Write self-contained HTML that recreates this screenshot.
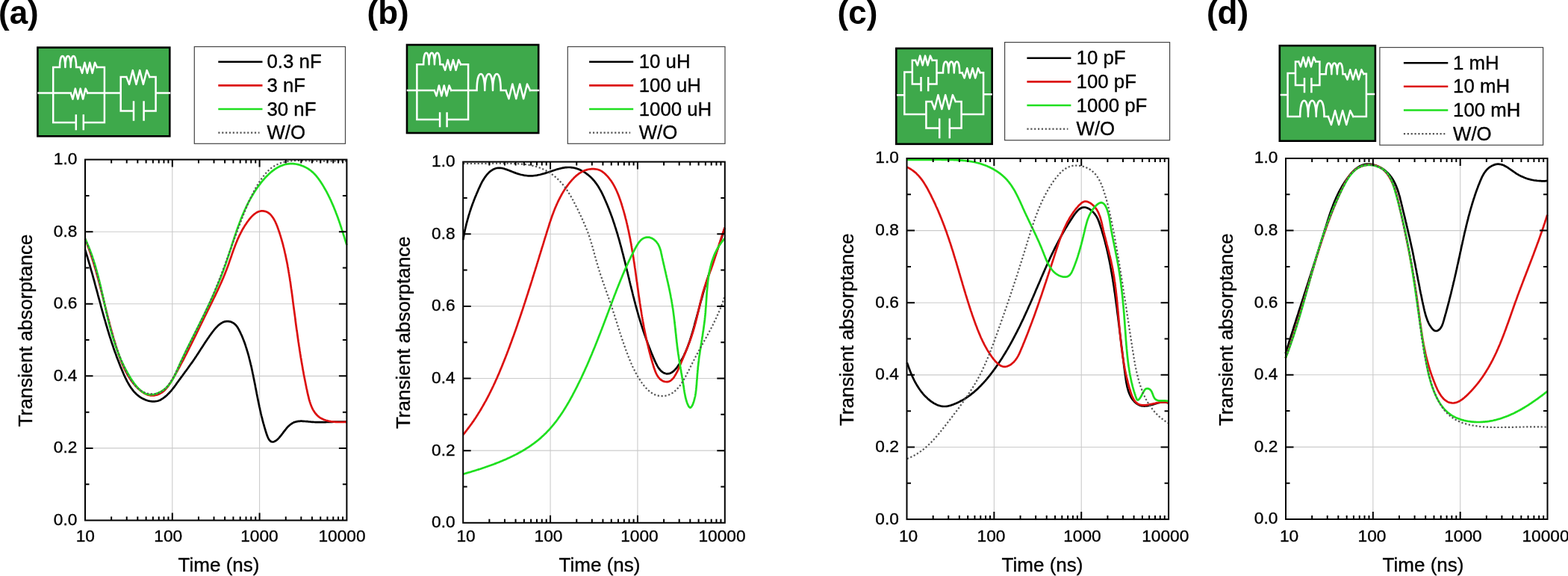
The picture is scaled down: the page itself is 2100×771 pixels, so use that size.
<!DOCTYPE html>
<html><head><meta charset="utf-8"><title>Transient absorptance</title>
<style>
html,body{margin:0;padding:0;background:#fff;}
body{width:2100px;height:771px;overflow:hidden;}
svg{display:block;}
text{font-family:"Liberation Sans", Arial, Helvetica, sans-serif;fill:#000;stroke:#000;stroke-width:0.35px;}
.tl{font-size:22.7px;}
.at{font-size:26px;}
.lg{font-size:25.8px;}
.pl{font-size:44px;font-weight:bold;stroke:none;}
</style></head>
<body>
<svg width="2100" height="771" viewBox="0 0 2100 771">
<rect width="2100" height="771" fill="#fff"/>
<path d="M230.8,213.6 V696.5 M347.6,213.6 V696.5 M114,599.92 H464.4 M114,503.34 H464.4 M114,406.76 H464.4 M114,310.18 H464.4" stroke="#cbcbcb" stroke-width="1.1" fill="none"/>
<path d="M113.9,334.1L114.4,335.6 114.8,337 115.3,338.5 115.7,339.9 116.2,341.4 116.6,342.8 117.1,344.3 117.5,345.7 117.9,347.2 118.4,348.6 118.8,350.1 119.2,351.5 119.6,353 120.1,354.4 120.5,355.9 120.9,357.3 121.3,358.8 121.7,360.2 122.1,361.7 122.6,363.1 123,364.6 123.4,366 123.8,367.5 124.2,368.9 124.6,370.4 125,371.8 125.4,373.3 125.8,374.7 126.2,376.2 126.6,377.6 127,379.1 127.3,380.5 127.7,381.9 128.1,383.4 128.5,384.8 128.9,386.3 129.3,387.7 129.7,389.2 130.1,390.6 130.5,392.1 130.9,393.5 131.2,395 131.6,396.4 132,397.9 132.4,399.3 132.8,400.7 133.2,402.2 133.6,403.6 134,405.1 134.4,406.5 134.8,408 135.1,409.4 135.5,410.8 135.9,412.3 136.3,413.7 136.7,415.2 137.1,416.6 137.5,418 137.9,419.5 138.3,420.9 138.7,422.4 139.1,423.8 139.5,425.2 139.9,426.7 140.4,428.1 140.8,429.5 141.2,431 141.6,432.4 142,433.9 142.4,435.3 142.9,436.7 143.3,438.2 143.7,439.6 144.1,441 144.6,442.5 145,443.9 145.5,445.3 145.9,446.8 146.3,448.2 146.8,449.6 147.2,451.1 147.7,452.5 148.2,453.9 148.6,455.4 149.1,456.8 149.5,458.2 150,459.6 150.5,461.1 151,462.5 151.5,463.9 151.9,465.4 152.4,466.8 152.9,468.2 153.4,469.6 153.9,471.1 154.5,472.5 155,473.9 155.5,475.3 156,476.8 156.5,478.2 157.1,479.6 157.6,481 158.2,482.4 158.7,483.9 159.3,485.3 159.8,486.7 160.4,488.1 160.9,489.5 161.5,491 162.1,492.4 162.7,493.8 163.3,495.2 163.9,496.6 164.5,498 165.1,499.5 165.7,500.9 166.3,502.3 167,503.7 167.6,505.1 168.3,506.5 169,507.8 169.6,509.2 170.3,510.6 171.1,511.9 171.8,513.2 172.6,514.5 173.3,515.8 174.1,517.1 174.9,518.3 175.8,519.6 176.7,520.7 177.6,521.9 178.5,523.1 179.4,524.2 180.4,525.2 181.4,526.3 182.4,527.3 183.5,528.3 184.6,529.2 185.8,530.1 186.9,531 188.2,531.8 189.4,532.6 190.7,533.3 192,534 193.4,534.6 194.8,535.2 196.3,535.7 197.7,536.2 199.2,536.6 200.7,536.9 202.2,537.1 203.7,537.3 205.3,537.4 206.8,537.3 208.3,537.2 209.7,537 211.2,536.7 212.6,536.2 214,535.7 215.4,535 216.7,534.2 218,533.4 219.2,532.5 220.4,531.6 221.6,530.6 222.7,529.7 223.8,528.7 224.9,527.6 226,526.6 227,525.5 228,524.4 229,523.3 230,522.1 230.9,521 231.8,519.8 232.8,518.6 233.7,517.4 234.6,516.2 235.5,515 236.3,513.8 237.2,512.5 238.1,511.3 239,510.1 239.9,508.8 240.8,507.6 241.7,506.4 242.6,505.1 243.5,503.9 244.4,502.7 245.3,501.4 246.2,500.2 247.1,498.9 248,497.7 249,496.5 249.9,495.2 250.8,494 251.7,492.8 252.6,491.5 253.4,490.3 254.3,489.1 255.2,487.8 256.1,486.6 257,485.4 257.8,484.2 258.7,482.9 259.5,481.7 260.4,480.5 261.2,479.3 262,478.1 262.8,476.9 263.6,475.6 264.4,474.4 265.2,473.2 266,472 266.8,470.8 267.6,469.6 268.3,468.4 269.1,467.1 269.9,465.9 270.7,464.7 271.5,463.5 272.3,462.2 273.1,461 273.9,459.8 274.7,458.5 275.6,457.2 276.4,456 277.3,454.7 278.1,453.4 279,452.2 279.9,450.9 280.8,449.6 281.8,448.2 282.7,446.9 283.7,445.6 284.7,444.3 285.7,443 286.7,441.7 287.8,440.4 288.9,439.2 290,438 291.1,436.9 292.2,435.8 293.3,434.8 294.5,433.9 295.7,433 296.9,432.3 298.1,431.6 299.4,431.1 300.6,430.6 301.9,430.3 303.2,430.1 304.6,430 305.9,430.1 307.2,430.3 308.6,430.6 309.9,431.1 311.2,431.7 312.5,432.4 313.7,433.2 314.8,434.1 315.9,435.2 316.8,436.3 317.7,437.5 318.5,438.8 319.3,440.1 320,441.4 320.7,442.8 321.4,444.2 322.1,445.6 322.7,447 323.4,448.4 324,449.8 324.6,451.2 325.2,452.6 325.7,454 326.3,455.4 326.8,456.9 327.4,458.3 327.9,459.7 328.4,461.2 328.9,462.6 329.3,464.1 329.8,465.5 330.2,467 330.7,468.4 331.1,469.9 331.6,471.3 332,472.8 332.4,474.2 332.8,475.7 333.2,477.1 333.6,478.6 333.9,480.1 334.3,481.5 334.7,483 335,484.4 335.4,485.9 335.7,487.3 336.1,488.8 336.4,490.2 336.8,491.7 337.1,493.2 337.4,494.6 337.7,496.1 338,497.5 338.3,499 338.6,500.5 339,501.9 339.3,503.4 339.5,504.8 339.8,506.3 340.1,507.8 340.4,509.2 340.7,510.7 341,512.2 341.3,513.6 341.6,515.1 341.9,516.5 342.1,518 342.4,519.5 342.7,520.9 343,522.4 343.3,523.9 343.6,525.4 343.8,526.8 344.1,528.3 344.4,529.8 344.7,531.2 345,532.7 345.3,534.2 345.6,535.7 345.9,537.2 346.2,538.6 346.5,540.1 346.8,541.6 347.1,543.1 347.4,544.6 347.8,546 348.1,547.5 348.4,549 348.8,550.5 349.1,552 349.4,553.5 349.8,555 350.1,556.5 350.5,557.9 350.9,559.4 351.3,560.9 351.6,562.4 352,563.9 352.4,565.4 352.8,566.9 353.3,568.4 353.7,569.9 354.1,571.4 354.6,573 355,574.5 355.5,576 355.9,577.5 356.4,579 356.9,580.5 357.4,582 357.9,583.4 358.5,584.8 359.1,586.1 359.7,587.3 360.3,588.4 361.1,589.4 361.8,590.2 362.6,590.8 363.5,591.3 364.4,591.5 365.4,591.5 366.5,591.3 367.6,590.9 368.7,590.3 369.9,589.6 371,588.7 372.1,587.7 373.2,586.6 374.3,585.4 375.3,584.1 376.4,582.8 377.5,581.4 378.6,580 379.6,578.6 380.7,577.2 381.8,575.8 382.8,574.5 383.9,573.2 385,571.9 386.1,570.7 387.2,569.7 388.4,568.7 389.5,567.8 390.7,567 391.9,566.3 393.1,565.6 394.4,565.1 395.7,564.7 397,564.4 398.4,564.1 399.8,563.9 401.2,563.8 402.6,563.7 404.1,563.7 405.6,563.8 407.1,563.9 408.6,564 410.1,564.1 411.7,564.2 413.2,564.4 414.7,564.5 416.3,564.7 417.8,564.8 419.3,564.9 420.9,565 422.4,565.1 423.9,565.1 425.4,565.2 426.9,565.2 428.4,565.2 429.9,565.2 431.4,565.2 432.9,565.2 434.4,565.1 435.9,565.1 437.4,565 438.8,565 440.3,564.9 441.8,564.9 443.3,564.8 444.8,564.8 446.3,564.7 447.8,564.7 449.3,564.6 450.8,564.6 452.3,564.6 453.8,564.6 455.3,564.5 456.8,564.5 458.3,564.6 459.8,564.6 461.3,564.6 462.9,564.7 464.4,564.8" stroke="#000" stroke-width="2.7" fill="none" stroke-linejoin="round"/>
<path d="M113.9,319.8L114.5,321.2 115,322.6 115.6,324 116.1,325.4 116.7,326.9 117.2,328.3 117.7,329.7 118.2,331.1 118.8,332.5 119.3,333.9 119.8,335.4 120.3,336.8 120.8,338.2 121.2,339.6 121.7,341 122.2,342.5 122.7,343.9 123.1,345.3 123.6,346.8 124.1,348.2 124.5,349.6 125,351 125.4,352.5 125.8,353.9 126.3,355.4 126.7,356.8 127.1,358.2 127.6,359.7 128,361.1 128.4,362.5 128.8,364 129.2,365.4 129.6,366.9 130,368.3 130.4,369.7 130.8,371.2 131.2,372.6 131.6,374.1 132,375.5 132.4,377 132.8,378.4 133.2,379.9 133.5,381.3 133.9,382.8 134.3,384.2 134.7,385.7 135,387.1 135.4,388.6 135.8,390 136.2,391.5 136.5,392.9 136.9,394.4 137.3,395.8 137.6,397.3 138,398.7 138.4,400.2 138.7,401.6 139.1,403.1 139.4,404.5 139.8,406 140.2,407.4 140.5,408.9 140.9,410.3 141.3,411.8 141.6,413.2 142,414.7 142.4,416.2 142.7,417.6 143.1,419.1 143.5,420.5 143.8,422 144.2,423.4 144.6,424.9 144.9,426.3 145.3,427.8 145.7,429.2 146.1,430.7 146.5,432.1 146.8,433.6 147.2,435 147.6,436.5 148,437.9 148.4,439.4 148.8,440.9 149.2,442.3 149.6,443.8 150,445.2 150.4,446.7 150.8,448.1 151.2,449.6 151.6,451 152,452.4 152.5,453.9 152.9,455.3 153.3,456.8 153.8,458.2 154.2,459.7 154.6,461.1 155.1,462.6 155.5,464 156,465.5 156.5,466.9 156.9,468.3 157.4,469.8 157.9,471.2 158.3,472.7 158.8,474.1 159.3,475.5 159.8,477 160.3,478.4 160.9,479.8 161.4,481.2 161.9,482.6 162.5,484.1 163,485.5 163.6,486.9 164.2,488.3 164.8,489.6 165.4,491 166,492.4 166.7,493.8 167.3,495.1 168,496.5 168.7,497.8 169.4,499.1 170.1,500.5 170.9,501.8 171.6,503.1 172.4,504.3 173.2,505.6 174,506.9 174.9,508.1 175.7,509.4 176.6,510.6 177.5,511.8 178.5,513 179.4,514.1 180.4,515.3 181.4,516.4 182.5,517.6 183.6,518.7 184.6,519.8 185.8,520.8 186.9,521.9 188.1,522.8 189.3,523.8 190.5,524.7 191.7,525.5 193,526.3 194.3,527 195.6,527.6 197,528.2 198.3,528.6 199.7,529 201.1,529.3 202.5,529.4 203.9,529.5 205.4,529.4 206.9,529.3 208.3,529 209.7,528.7 211.1,528.2 212.5,527.7 213.8,527.1 215.1,526.4 216.3,525.7 217.5,524.8 218.7,524 219.8,523 220.8,522 221.8,521 222.8,519.9 223.8,518.7 224.7,517.6 225.6,516.4 226.5,515.1 227.3,513.9 228.2,512.6 229,511.3 229.8,509.9 230.6,508.6 231.4,507.3 232.2,505.9 232.9,504.6 233.7,503.2 234.5,501.9 235.2,500.5 236,499.2 236.7,497.9 237.5,496.5 238.2,495.2 238.9,493.8 239.7,492.5 240.4,491.2 241.1,489.8 241.8,488.5 242.5,487.1 243.2,485.8 244,484.5 244.7,483.1 245.4,481.8 246.1,480.5 246.8,479.1 247.4,477.8 248.1,476.5 248.8,475.1 249.5,473.8 250.2,472.5 250.9,471.1 251.5,469.8 252.2,468.5 252.9,467.1 253.6,465.8 254.2,464.5 254.9,463.1 255.6,461.8 256.2,460.5 256.9,459.1 257.6,457.8 258.2,456.5 258.9,455.1 259.5,453.8 260.2,452.5 260.8,451.1 261.5,449.8 262.2,448.5 262.8,447.1 263.5,445.8 264.1,444.5 264.8,443.1 265.4,441.8 266.1,440.4 266.7,439.1 267.4,437.8 268,436.4 268.7,435.1 269.3,433.8 270,432.4 270.7,431.1 271.3,429.7 272,428.4 272.6,427.1 273.3,425.7 273.9,424.4 274.6,423 275.3,421.7 275.9,420.3 276.6,419 277.3,417.6 277.9,416.3 278.6,414.9 279.3,413.6 280,412.2 280.6,410.9 281.3,409.5 282,408.2 282.6,406.8 283.3,405.5 284,404.1 284.6,402.8 285.3,401.4 286,400 286.6,398.7 287.3,397.3 288,396 288.6,394.6 289.3,393.2 289.9,391.9 290.6,390.5 291.2,389.1 291.9,387.8 292.5,386.4 293.2,385 293.8,383.6 294.4,382.3 295,380.9 295.7,379.5 296.3,378.1 296.9,376.8 297.5,375.4 298.1,374 298.7,372.6 299.3,371.2 299.8,369.8 300.4,368.5 301,367.1 301.5,365.7 302.1,364.3 302.6,362.9 303.2,361.5 303.7,360.1 304.2,358.7 304.8,357.3 305.3,355.9 305.8,354.5 306.3,353.1 306.8,351.7 307.2,350.3 307.7,348.9 308.2,347.5 308.7,346.1 309.2,344.7 309.7,343.3 310.2,341.9 310.6,340.5 311.1,339.1 311.6,337.7 312.1,336.3 312.6,334.9 313.1,333.5 313.6,332.1 314.2,330.7 314.7,329.3 315.2,327.9 315.8,326.5 316.3,325.1 316.9,323.8 317.5,322.4 318,321 318.6,319.6 319.3,318.2 319.9,316.9 320.5,315.5 321.2,314.1 321.9,312.8 322.6,311.4 323.3,310.1 324,308.7 324.7,307.4 325.5,306 326.3,304.7 327.1,303.4 327.9,302 328.8,300.7 329.7,299.4 330.6,298.1 331.5,296.8 332.5,295.5 333.4,294.2 334.5,292.9 335.5,291.7 336.5,290.5 337.6,289.4 338.7,288.3 339.9,287.3 341,286.3 342.2,285.5 343.4,284.7 344.6,284 345.9,283.4 347.1,283 348.4,282.7 349.7,282.4 351,282.4 352.3,282.4 353.6,282.6 354.9,282.8 356.2,283.2 357.4,283.7 358.6,284.3 359.8,285.1 360.8,285.9 361.9,286.8 362.9,287.9 363.8,289 364.7,290.2 365.6,291.4 366.4,292.7 367.2,294 367.9,295.4 368.7,296.8 369.3,298.3 370,299.7 370.6,301.2 371.2,302.6 371.7,304.1 372.2,305.5 372.7,306.9 373.2,308.4 373.7,309.8 374.2,311.2 374.7,312.7 375.1,314.1 375.6,315.5 376,317 376.4,318.4 376.9,319.9 377.3,321.3 377.7,322.8 378.1,324.2 378.5,325.7 378.9,327.1 379.3,328.6 379.6,330 380,331.5 380.4,333 380.7,334.4 381.1,335.9 381.4,337.4 381.7,338.8 382.1,340.3 382.4,341.8 382.7,343.2 383,344.7 383.3,346.2 383.6,347.6 383.9,349.1 384.2,350.6 384.5,352.1 384.8,353.6 385.1,355 385.3,356.5 385.6,358 385.9,359.5 386.1,361 386.4,362.5 386.6,363.9 386.9,365.4 387.1,366.9 387.4,368.4 387.6,369.9 387.9,371.4 388.1,372.9 388.3,374.3 388.5,375.8 388.8,377.3 389,378.8 389.2,380.3 389.4,381.8 389.6,383.3 389.8,384.8 390,386.3 390.3,387.7 390.5,389.2 390.7,390.7 390.9,392.2 391.1,393.7 391.3,395.2 391.5,396.7 391.7,398.2 391.9,399.7 392.1,401.1 392.2,402.6 392.4,404.1 392.6,405.6 392.8,407.1 393,408.6 393.2,410.1 393.4,411.5 393.6,413 393.8,414.5 394,416 394.2,417.5 394.4,419 394.6,420.4 394.8,421.9 395,423.4 395.2,424.9 395.4,426.4 395.5,427.8 395.7,429.3 395.9,430.8 396.1,432.3 396.3,433.8 396.5,435.2 396.7,436.7 396.9,438.2 397.1,439.7 397.3,441.1 397.5,442.6 397.8,444.1 398,445.6 398.2,447.1 398.4,448.5 398.6,450 398.8,451.5 399,453 399.2,454.5 399.4,455.9 399.6,457.4 399.9,458.9 400.1,460.4 400.3,461.9 400.5,463.3 400.8,464.8 401,466.3 401.2,467.8 401.4,469.3 401.7,470.7 401.9,472.2 402.1,473.7 402.4,475.2 402.6,476.7 402.8,478.2 403.1,479.7 403.3,481.1 403.6,482.6 403.8,484.1 404.1,485.6 404.3,487.1 404.6,488.6 404.9,490.1 405.1,491.6 405.4,493.1 405.6,494.6 405.9,496.1 406.2,497.5 406.5,499 406.7,500.5 407,502 407.3,503.5 407.6,505 407.9,506.5 408.2,508 408.5,509.6 408.8,511.1 409.1,512.6 409.4,514.1 409.7,515.6 410,517.1 410.3,518.6 410.6,520.1 411,521.6 411.3,523.1 411.6,524.7 411.9,526.2 412.3,527.7 412.6,529.2 413,530.7 413.4,532.2 413.7,533.7 414.1,535.2 414.6,536.7 415,538.1 415.5,539.5 415.9,541 416.5,542.3 417,543.7 417.6,545 418.2,546.4 418.8,547.6 419.5,548.9 420.2,550.1 421,551.3 421.7,552.4 422.6,553.5 423.5,554.5 424.4,555.5 425.4,556.5 426.4,557.4 427.5,558.3 428.7,559.1 429.9,559.8 431.2,560.5 432.5,561.1 433.9,561.7 435.3,562.2 436.8,562.7 438.4,563.1 439.9,563.5 441.5,563.8 443.1,564.1 444.7,564.3 446.3,564.5 447.9,564.7 449.6,564.8 451.2,564.9 452.8,565 454.4,565 455.9,565 457.4,565 458.9,565 460.4,565 461.8,564.9 463.1,564.9 464.4,564.8" stroke="#dc0f0f" stroke-width="2.7" fill="none" stroke-linejoin="round"/>
<path d="M113.9,319.3L114.6,320.7 115.2,322.1 115.8,323.5 116.4,324.9 117,326.3 117.6,327.7 118.2,329.1 118.8,330.5 119.4,331.9 119.9,333.3 120.5,334.7 121,336.1 121.5,337.5 122.1,339 122.6,340.4 123.1,341.8 123.6,343.2 124.1,344.7 124.5,346.1 125,347.5 125.5,349 125.9,350.4 126.4,351.8 126.8,353.3 127.3,354.7 127.7,356.1 128.1,357.6 128.5,359 128.9,360.5 129.3,361.9 129.7,363.4 130.1,364.8 130.5,366.3 130.9,367.7 131.3,369.2 131.7,370.6 132,372.1 132.4,373.5 132.8,375 133.1,376.4 133.5,377.9 133.8,379.3 134.2,380.8 134.5,382.2 134.9,383.7 135.2,385.2 135.5,386.6 135.9,388.1 136.2,389.5 136.5,391 136.9,392.5 137.2,393.9 137.5,395.4 137.8,396.9 138.2,398.3 138.5,399.8 138.8,401.2 139.1,402.7 139.4,404.2 139.8,405.6 140.1,407.1 140.4,408.6 140.7,410 141.1,411.5 141.4,412.9 141.7,414.4 142,415.9 142.4,417.3 142.7,418.8 143,420.2 143.4,421.7 143.7,423.2 144.1,424.6 144.4,426.1 144.8,427.5 145.1,429 145.5,430.4 145.8,431.9 146.2,433.3 146.5,434.8 146.9,436.2 147.3,437.7 147.7,439.1 148,440.6 148.4,442 148.8,443.5 149.2,444.9 149.6,446.4 150,447.8 150.5,449.2 150.9,450.7 151.3,452.1 151.8,453.5 152.2,455 152.6,456.4 153.1,457.8 153.6,459.3 154,460.7 154.5,462.1 155,463.5 155.5,464.9 156,466.4 156.5,467.8 157,469.2 157.6,470.6 158.1,472 158.7,473.4 159.2,474.8 159.8,476.2 160.4,477.6 160.9,479 161.5,480.4 162.1,481.8 162.8,483.2 163.4,484.6 164,486 164.7,487.3 165.4,488.7 166,490.1 166.7,491.5 167.4,492.8 168.1,494.2 168.9,495.6 169.6,496.9 170.3,498.3 171.1,499.6 171.9,501 172.7,502.3 173.5,503.7 174.3,505 175.1,506.4 176,507.7 176.8,509 177.7,510.3 178.6,511.6 179.5,512.9 180.4,514.2 181.4,515.4 182.3,516.6 183.3,517.7 184.3,518.8 185.3,519.9 186.4,520.9 187.4,521.9 188.5,522.8 189.6,523.7 190.7,524.5 191.9,525.2 193,525.9 194.2,526.5 195.5,527 196.7,527.4 198,527.7 199.3,528 200.6,528.1 202,528.2 203.3,528.2 204.7,528 206.2,527.8 207.6,527.5 209,527 210.5,526.5 211.9,526 213.3,525.3 214.7,524.6 216.1,523.9 217.4,523 218.7,522.2 219.9,521.2 221.1,520.3 222.3,519.3 223.4,518.2 224.4,517.1 225.4,516 226.4,514.9 227.3,513.7 228.2,512.5 229,511.2 229.9,510 230.7,508.7 231.4,507.4 232.2,506 232.9,504.7 233.6,503.3 234.3,502 235,500.6 235.6,499.2 236.2,497.8 236.9,496.4 237.5,494.9 238.1,493.5 238.7,492.1 239.4,490.7 240,489.3 240.6,487.9 241.2,486.5 241.8,485.1 242.5,483.7 243.1,482.3 243.7,481 244.4,479.6 245,478.2 245.7,476.9 246.3,475.5 247,474.1 247.6,472.8 248.3,471.4 248.9,470.1 249.6,468.7 250.2,467.4 250.9,466.1 251.5,464.7 252.2,463.4 252.9,462 253.5,460.7 254.2,459.4 254.9,458 255.5,456.7 256.2,455.4 256.9,454.1 257.5,452.7 258.2,451.4 258.9,450.1 259.5,448.7 260.2,447.4 260.9,446.1 261.5,444.7 262.2,443.4 262.9,442.1 263.6,440.7 264.2,439.4 264.9,438.1 265.6,436.7 266.2,435.4 266.9,434.1 267.6,432.7 268.2,431.4 268.9,430 269.6,428.7 270.2,427.3 270.9,426 271.6,424.6 272.2,423.3 272.9,421.9 273.6,420.6 274.2,419.2 274.9,417.9 275.5,416.5 276.2,415.2 276.8,413.8 277.5,412.5 278.1,411.1 278.8,409.7 279.4,408.4 280,407 280.7,405.7 281.3,404.3 282,402.9 282.6,401.5 283.2,400.2 283.8,398.8 284.5,397.4 285.1,396.1 285.7,394.7 286.3,393.3 286.9,391.9 287.5,390.5 288.1,389.2 288.7,387.8 289.3,386.4 289.9,385 290.5,383.6 291.1,382.2 291.7,380.8 292.3,379.4 292.9,378 293.4,376.7 294,375.3 294.6,373.9 295.1,372.5 295.7,371.1 296.2,369.6 296.8,368.2 297.3,366.8 297.8,365.4 298.4,364 298.9,362.6 299.4,361.2 299.9,359.8 300.4,358.3 301,356.9 301.5,355.5 302,354.1 302.5,352.7 302.9,351.2 303.4,349.8 303.9,348.4 304.4,346.9 304.9,345.5 305.3,344.1 305.8,342.6 306.3,341.2 306.8,339.8 307.2,338.3 307.7,336.9 308.2,335.5 308.6,334 309.1,332.6 309.6,331.2 310,329.7 310.5,328.3 310.9,326.9 311.4,325.5 311.9,324 312.3,322.6 312.8,321.2 313.3,319.7 313.8,318.3 314.2,316.9 314.7,315.5 315.2,314 315.7,312.6 316.2,311.2 316.6,309.8 317.1,308.3 317.6,306.9 318.1,305.5 318.6,304.1 319.1,302.7 319.7,301.3 320.2,299.9 320.7,298.5 321.2,297.1 321.8,295.7 322.3,294.3 322.8,292.9 323.4,291.5 324,290.1 324.5,288.8 325.1,287.4 325.7,286 326.3,284.6 326.9,283.3 327.5,281.9 328.1,280.5 328.7,279.2 329.3,277.8 330,276.5 330.6,275.1 331.3,273.8 332,272.5 332.6,271.1 333.3,269.8 334,268.5 334.8,267.2 335.5,265.9 336.2,264.6 337,263.3 337.7,262 338.5,260.7 339.3,259.4 340.1,258.1 340.9,256.8 341.7,255.6 342.5,254.3 343.4,253 344.2,251.8 345.1,250.5 346,249.3 346.9,248.1 347.8,246.9 348.8,245.6 349.7,244.4 350.7,243.2 351.7,242 352.7,240.8 353.7,239.7 354.7,238.5 355.7,237.4 356.8,236.3 357.9,235.2 359,234.1 360.1,233 361.2,232 362.3,231 363.5,230 364.6,229.1 365.8,228.2 367,227.3 368.2,226.4 369.5,225.6 370.7,224.9 372,224.1 373.2,223.5 374.5,222.8 375.8,222.2 377.1,221.7 378.5,221.2 379.8,220.7 381.2,220.3 382.6,220 384,219.7 385.4,219.4 386.8,219.3 388.3,219.2 389.7,219.1 391.2,219.1 392.7,219.2 394.2,219.3 395.7,219.5 397.2,219.8 398.8,220.1 400.3,220.5 401.8,220.9 403.3,221.4 404.8,222 406.2,222.5 407.7,223.2 409.1,223.9 410.5,224.6 411.8,225.4 413.1,226.2 414.4,227.1 415.7,228 416.9,228.9 418,229.9 419.2,230.9 420.2,231.9 421.3,233 422.3,234.1 423.3,235.2 424.2,236.3 425.2,237.5 426.1,238.7 427,239.9 427.8,241.1 428.7,242.3 429.5,243.6 430.3,244.8 431.1,246.1 431.9,247.3 432.7,248.6 433.5,249.9 434.2,251.2 435,252.5 435.7,253.8 436.5,255.1 437.2,256.4 437.9,257.7 438.6,259.1 439.3,260.4 439.9,261.7 440.6,263.1 441.3,264.4 441.9,265.8 442.6,267.1 443.2,268.5 443.8,269.9 444.4,271.2 445,272.6 445.6,274 446.2,275.4 446.8,276.8 447.4,278.2 447.9,279.6 448.5,281 449.1,282.4 449.6,283.8 450.1,285.2 450.7,286.6 451.2,288 451.7,289.4 452.3,290.8 452.8,292.3 453.3,293.7 453.8,295.1 454.3,296.5 454.8,298 455.3,299.4 455.7,300.8 456.2,302.3 456.7,303.7 457.2,305.1 457.6,306.6 458.1,308 458.6,309.4 459,310.9 459.5,312.3 459.9,313.7 460.4,315.2 460.9,316.6 461.3,318 461.7,319.5 462.2,320.9 462.6,322.3 463.1,323.7 463.5,325.2 464,326.6 464.4,328" stroke="#1fdf1f" stroke-width="2.7" fill="none" stroke-linejoin="round"/>
<path d="M113.9,319.3L114.5,320.7 115.1,322.2 115.7,323.6 116.2,325.1 116.8,326.5 117.4,328 117.9,329.4 118.4,330.8 119,332.3 119.5,333.7 120,335.2 120.5,336.6 121,338 121.5,339.5 122,340.9 122.5,342.4 123,343.8 123.5,345.3 123.9,346.7 124.4,348.1 124.8,349.6 125.3,351 125.7,352.5 126.2,353.9 126.6,355.3 127,356.8 127.5,358.2 127.9,359.7 128.3,361.1 128.7,362.5 129.1,364 129.5,365.4 129.9,366.9 130.3,368.3 130.7,369.7 131.1,371.2 131.5,372.6 131.8,374.1 132.2,375.5 132.6,376.9 133,378.4 133.3,379.8 133.7,381.2 134.1,382.7 134.4,384.1 134.8,385.6 135.2,387 135.5,388.4 135.9,389.9 136.2,391.3 136.6,392.8 136.9,394.2 137.3,395.6 137.6,397.1 138,398.5 138.3,400 138.7,401.4 139,402.8 139.4,404.3 139.7,405.7 140.1,407.2 140.4,408.6 140.8,410 141.1,411.5 141.5,412.9 141.8,414.4 142.2,415.8 142.5,417.2 142.9,418.7 143.3,420.1 143.6,421.6 144,423 144.3,424.4 144.7,425.9 145.1,427.3 145.5,428.8 145.8,430.2 146.2,431.6 146.6,433.1 147,434.5 147.4,436 147.8,437.4 148.2,438.9 148.5,440.3 149,441.7 149.4,443.2 149.8,444.6 150.2,446.1 150.6,447.5 151,448.9 151.5,450.4 151.9,451.8 152.3,453.3 152.8,454.7 153.2,456.2 153.7,457.6 154.1,459.1 154.6,460.5 155.1,461.9 155.6,463.4 156,464.8 156.5,466.3 157,467.7 157.5,469.2 158.1,470.6 158.6,472.1 159.1,473.5 159.6,475 160.2,476.4 160.7,477.9 161.3,479.3 161.8,480.7 162.4,482.2 163,483.6 163.6,485.1 164.2,486.5 164.8,488 165.4,489.4 166,490.9 166.7,492.3 167.3,493.8 168,495.2 168.6,496.7 169.3,498.1 170,499.5 170.7,500.9 171.5,502.3 172.2,503.7 173,505 173.8,506.4 174.6,507.7 175.4,509 176.2,510.2 177.1,511.5 178,512.7 178.9,513.8 179.8,515 180.8,516.1 181.8,517.1 182.8,518.1 183.9,519.1 184.9,520.1 186,520.9 187.2,521.8 188.4,522.6 189.6,523.3 190.8,524 192.1,524.6 193.4,525.2 194.8,525.7 196.1,526.2 197.5,526.6 198.9,526.9 200.4,527.1 201.8,527.3 203.2,527.4 204.7,527.5 206.1,527.4 207.5,527.3 208.9,527.1 210.3,526.8 211.6,526.4 212.9,525.9 214.2,525.4 215.4,524.7 216.6,524 217.8,523.2 218.9,522.3 220,521.4 221.1,520.4 222.1,519.3 223.2,518.2 224.1,517.1 225.1,515.9 226,514.6 226.9,513.3 227.8,512 228.7,510.7 229.5,509.3 230.3,508 231.2,506.6 231.9,505.2 232.7,503.8 233.5,502.4 234.2,501.1 234.9,499.7 235.6,498.3 236.3,496.9 237,495.6 237.7,494.2 238.4,492.8 239,491.5 239.7,490.1 240.3,488.7 241,487.4 241.6,486 242.3,484.7 242.9,483.3 243.5,482 244.2,480.6 244.8,479.3 245.4,478 246.1,476.6 246.7,475.3 247.3,473.9 248,472.6 248.6,471.2 249.3,469.9 249.9,468.5 250.6,467.2 251.2,465.9 251.9,464.5 252.6,463.2 253.2,461.8 253.9,460.5 254.5,459.1 255.2,457.8 255.9,456.5 256.6,455.1 257.2,453.8 257.9,452.4 258.6,451.1 259.2,449.7 259.9,448.4 260.6,447 261.3,445.7 261.9,444.4 262.6,443 263.3,441.7 264,440.3 264.6,439 265.3,437.6 266,436.3 266.6,434.9 267.3,433.6 268,432.2 268.6,430.9 269.3,429.5 270,428.2 270.6,426.8 271.3,425.4 272,424.1 272.6,422.7 273.3,421.4 273.9,420 274.6,418.6 275.2,417.3 275.9,415.9 276.5,414.5 277.1,413.2 277.8,411.8 278.4,410.4 279,409.1 279.6,407.7 280.3,406.3 280.9,404.9 281.5,403.6 282.1,402.2 282.7,400.8 283.3,399.4 283.9,398 284.5,396.7 285.1,395.3 285.7,393.9 286.3,392.5 286.9,391.1 287.4,389.7 288,388.3 288.6,386.9 289.1,385.5 289.7,384.1 290.3,382.7 290.8,381.3 291.4,379.9 292,378.5 292.5,377.1 293.1,375.7 293.6,374.3 294.2,372.9 294.7,371.5 295.2,370.1 295.8,368.7 296.3,367.3 296.9,365.9 297.4,364.5 297.9,363.1 298.5,361.7 299,360.3 299.5,358.9 300.1,357.5 300.6,356 301.1,354.6 301.6,353.2 302.2,351.8 302.7,350.4 303.2,349 303.7,347.6 304.2,346.2 304.8,344.7 305.3,343.3 305.8,341.9 306.3,340.5 306.8,339.1 307.3,337.7 307.9,336.3 308.4,334.8 308.9,333.4 309.4,332 309.9,330.6 310.4,329.2 310.9,327.8 311.5,326.4 312,324.9 312.5,323.5 313,322.1 313.5,320.7 314,319.3 314.6,317.9 315.1,316.5 315.6,315.1 316.1,313.6 316.6,312.2 317.2,310.8 317.7,309.4 318.2,308 318.7,306.6 319.2,305.2 319.8,303.8 320.3,302.4 320.8,301 321.4,299.6 321.9,298.2 322.4,296.8 323,295.4 323.5,294 324,292.6 324.6,291.2 325.1,289.8 325.7,288.4 326.2,287 326.8,285.6 327.3,284.2 327.9,282.8 328.5,281.4 329,280 329.6,278.6 330.2,277.2 330.7,275.8 331.3,274.5 331.9,273.1 332.5,271.7 333.1,270.3 333.7,269 334.4,267.6 335,266.2 335.6,264.9 336.3,263.5 336.9,262.1 337.6,260.8 338.3,259.4 338.9,258.1 339.6,256.8 340.3,255.4 341.1,254.1 341.8,252.8 342.5,251.4 343.3,250.1 344.1,248.8 344.9,247.5 345.7,246.2 346.5,244.9 347.3,243.6 348.1,242.3 349,241.1 349.9,239.8 350.8,238.5 351.7,237.3 352.6,236.1 353.6,234.9 354.5,233.7 355.5,232.5 356.5,231.4 357.6,230.3 358.6,229.2 359.7,228.1 360.8,227.1 361.9,226.2 363,225.2 364.2,224.3 365.4,223.5 366.6,222.7 367.9,221.9 369.1,221.2 370.4,220.5 371.8,219.9 373.1,219.3 374.5,218.8 375.8,218.3 377.2,217.8 378.6,217.4 380.1,217 381.5,216.7 383,216.4 384.5,216.1 385.9,215.9 387.4,215.7 388.9,215.5 390.4,215.4 391.9,215.2 393.4,215.2 395,215.1 396.5,215 398,215 399.5,215 401.1,215 402.6,215.1 404.1,215.1 405.6,215.1 407.2,215.2 408.7,215.2 410.2,215.3 411.7,215.3 413.2,215.4 414.8,215.4 416.3,215.5 417.8,215.5 419.3,215.5 420.8,215.6 422.3,215.6 423.8,215.6 425.3,215.6 426.8,215.6 428.3,215.6 429.8,215.6 431.3,215.6 432.8,215.6 434.3,215.6 435.8,215.6 437.3,215.6 438.8,215.6 440.3,215.6 441.8,215.6 443.3,215.6 444.8,215.6 446.3,215.6 447.8,215.6 449.3,215.5 450.8,215.5 452.3,215.5 453.8,215.5 455.3,215.5 456.8,215.5 458.3,215.5 459.8,215.5 461.4,215.5 462.9,215.5 464.4,215.5" stroke="#555" stroke-width="2.2" fill="none" stroke-linejoin="round" stroke-dasharray="2.2 2.66"/>
<path d="M149.16,696.5 v-5 M149.16,213.6 v5 M169.73,696.5 v-5 M169.73,213.6 v5 M184.32,696.5 v-5 M184.32,213.6 v5 M195.64,696.5 v-5 M195.64,213.6 v5 M204.89,696.5 v-5 M204.89,213.6 v5 M212.71,696.5 v-5 M212.71,213.6 v5 M219.48,696.5 v-5 M219.48,213.6 v5 M225.46,696.5 v-5 M225.46,213.6 v5 M230.8,696.5 v-10 M230.8,213.6 v10 M265.96,696.5 v-5 M265.96,213.6 v5 M286.53,696.5 v-5 M286.53,213.6 v5 M301.12,696.5 v-5 M301.12,213.6 v5 M312.44,696.5 v-5 M312.44,213.6 v5 M321.69,696.5 v-5 M321.69,213.6 v5 M329.51,696.5 v-5 M329.51,213.6 v5 M336.28,696.5 v-5 M336.28,213.6 v5 M342.26,696.5 v-5 M342.26,213.6 v5 M347.6,696.5 v-10 M347.6,213.6 v10 M382.76,696.5 v-5 M382.76,213.6 v5 M403.33,696.5 v-5 M403.33,213.6 v5 M417.92,696.5 v-5 M417.92,213.6 v5 M429.24,696.5 v-5 M429.24,213.6 v5 M438.49,696.5 v-5 M438.49,213.6 v5 M446.31,696.5 v-5 M446.31,213.6 v5 M453.08,696.5 v-5 M453.08,213.6 v5 M459.06,696.5 v-5 M459.06,213.6 v5 M114,648.21 h5.5 M464.4,648.21 h-5.5 M114,599.92 h10.5 M464.4,599.92 h-10.5 M114,551.63 h5.5 M464.4,551.63 h-5.5 M114,503.34 h10.5 M464.4,503.34 h-10.5 M114,455.05 h5.5 M464.4,455.05 h-5.5 M114,406.76 h10.5 M464.4,406.76 h-10.5 M114,358.47 h5.5 M464.4,358.47 h-5.5 M114,310.18 h10.5 M464.4,310.18 h-10.5 M114,261.89 h5.5 M464.4,261.89 h-5.5" stroke="#000" stroke-width="2" fill="none"/>
<rect x="114" y="213.6" width="350.4" height="482.9" fill="none" stroke="#000" stroke-width="2"/>
<text x="103.4" y="702.9" class="tl" text-anchor="end">0.0</text>
<text x="103.4" y="606.32" class="tl" text-anchor="end">0.2</text>
<text x="103.4" y="509.74" class="tl" text-anchor="end">0.4</text>
<text x="103.4" y="413.16" class="tl" text-anchor="end">0.6</text>
<text x="103.4" y="316.58" class="tl" text-anchor="end">0.8</text>
<text x="103.4" y="220" class="tl" text-anchor="end">1.0</text>
<text x="114.3" y="725.2" class="tl" text-anchor="middle">10</text>
<text x="225.2" y="725.2" class="tl" text-anchor="middle">100</text>
<text x="347.5" y="725.2" class="tl" text-anchor="middle">1000</text>
<text x="458" y="725.2" class="tl" text-anchor="middle">10000</text>
<text x="293" y="765" class="at" text-anchor="middle">Time (ns)</text>
<text transform="translate(42.8,571.3) rotate(-90)" class="at">Transient absorptance</text>
<text x="-2" y="31.5" class="pl">(a)</text>
<rect x="50.4" y="63.6" width="176.9" height="118.7" fill="#3ea94b" stroke="#000" stroke-width="2.6"/><path d="M51.5,124.6 H71.2 M139.9,124.6 H161.7 M208.6,124.6 H227 M71.2,90 V164 M139.9,90 V164 M71.2,90 H80 M80,90 C80,69.87 87.37,69.87 87.37,90 C87.37,69.87 94.73,69.87 94.73,90 C94.73,69.87 102.1,69.87 102.1,90 M102.1,90 H107.3 M107.3,90 L110.03,97.9 L113.44,83.7 L116.85,97.9 L120.25,83.7 L123.66,97.9 L127.07,83.7 L129.8,90 M129.8,90 H139.9 M71.2,124.6 H94.7 M94.7,124.6 L97.44,132.6 L100.86,118.6 L104.29,132.6 L107.71,118.6 L111.14,132.6 L114.56,118.6 L117.3,124.6 M117.3,124.6 H139.9 M71.2,164 H101.8 M111.8,164 H139.9 M101.8,154.5 V173 M111.8,154.5 V173 M161.7,103 V148.5 M208.6,103 V148.5 M161.7,103 H169.3 M169.3,103 L173.07,112.9 L177.78,94.1 L182.49,112.9 L187.21,94.1 L191.92,112.9 L196.63,94.1 L200.4,103 M200.4,103 H208.6 M161.7,148.5 H179 M192.6,148.5 H208.6 M179,136.4 V160.4 M192.6,136.4 V160.4" fill="none" stroke="#fff" stroke-width="2.5" stroke-linejoin="round" stroke-linecap="square"/>
<rect x="260.3" y="62.5" width="202.2" height="129.8" fill="#fff" stroke="#444" stroke-width="1.2"/>
<path d="M292.3,82.8 H351.5" stroke="#000" stroke-width="2.6"/>
<text x="357.5" y="91.3" class="lg">0.3 nF</text>
<path d="M292.3,114.4 H351.5" stroke="#dc0f0f" stroke-width="2.6"/>
<text x="357.5" y="122.9" class="lg">3 nF</text>
<path d="M292.3,146 H351.5" stroke="#1fdf1f" stroke-width="2.6"/>
<text x="357.5" y="154.5" class="lg">30 nF</text>
<path d="M292.3,177.6 H347.5" stroke="#555" stroke-width="2.2" stroke-dasharray="2.2 2.66"/>
<text x="357.5" y="186.1" class="lg">W/O</text>
<path d="M737.07,216.6 V699.8 M853.93,216.6 V699.8 M620.2,603.16 H970.8 M620.2,506.52 H970.8 M620.2,409.88 H970.8 M620.2,313.24 H970.8" stroke="#cbcbcb" stroke-width="1.1" fill="none"/>
<path d="M620.2,321L620.5,319.5 620.7,317.9 621,316.4 621.3,314.9 621.6,313.4 621.9,311.9 622.2,310.4 622.5,308.9 622.8,307.5 623.2,306 623.5,304.5 623.9,303.1 624.2,301.6 624.6,300.2 624.9,298.7 625.3,297.3 625.7,295.8 626.1,294.4 626.5,293 626.9,291.6 627.3,290.2 627.7,288.7 628.1,287.3 628.6,285.9 629,284.5 629.4,283.1 629.9,281.7 630.4,280.3 630.8,278.9 631.3,277.5 631.8,276.1 632.3,274.7 632.8,273.3 633.3,271.9 633.9,270.5 634.4,269.1 634.9,267.7 635.5,266.3 636,264.9 636.6,263.5 637.2,262.1 637.8,260.7 638.3,259.3 639,257.9 639.6,256.5 640.2,255.1 640.8,253.6 641.4,252.2 642.1,250.8 642.8,249.4 643.4,247.9 644.1,246.5 644.8,245.1 645.5,243.7 646.3,242.3 647.1,241 647.9,239.7 648.7,238.4 649.6,237.1 650.5,235.9 651.4,234.7 652.4,233.5 653.4,232.4 654.4,231.4 655.5,230.3 656.6,229.4 657.8,228.5 659.1,227.7 660.3,226.9 661.6,226.3 663,225.7 664.3,225.3 665.7,225 667.1,224.8 668.5,224.8 669.9,224.8 671.3,225 672.7,225.2 674.1,225.5 675.6,225.9 677,226.4 678.5,226.9 679.9,227.4 681.4,228 682.8,228.6 684.3,229.1 685.7,229.7 687.2,230.3 688.6,230.9 690.1,231.4 691.5,231.9 693,232.4 694.4,232.9 695.9,233.3 697.3,233.7 698.8,234 700.2,234.3 701.6,234.6 703.1,234.8 704.5,235 706,235.2 707.4,235.3 708.9,235.4 710.3,235.4 711.8,235.4 713.2,235.3 714.7,235.2 716.2,235 717.6,234.8 719.1,234.6 720.6,234.3 722,234 723.5,233.7 725,233.3 726.4,232.9 727.9,232.5 729.4,232.1 730.9,231.6 732.3,231.1 733.8,230.7 735.3,230.2 736.8,229.7 738.3,229.2 739.7,228.7 741.2,228.2 742.7,227.7 744.2,227.3 745.6,226.8 747.1,226.4 748.6,226 750.1,225.6 751.5,225.2 753,224.9 754.5,224.6 756,224.4 757.4,224.2 758.9,224.1 760.4,224 761.8,224 763.3,224 764.7,224.1 766.2,224.3 767.7,224.5 769.1,224.8 770.5,225.1 772,225.5 773.4,226 774.8,226.5 776.2,227.1 777.6,227.7 778.9,228.4 780.3,229.1 781.6,229.8 782.9,230.6 784.2,231.5 785.4,232.4 786.6,233.3 787.8,234.2 789,235.2 790.2,236.2 791.3,237.2 792.3,238.3 793.4,239.4 794.4,240.5 795.4,241.6 796.3,242.7 797.2,243.9 798.1,245.1 799,246.3 799.8,247.5 800.7,248.8 801.5,250 802.2,251.3 803,252.6 803.7,253.9 804.5,255.2 805.2,256.5 805.9,257.8 806.5,259.2 807.2,260.5 807.8,261.9 808.5,263.2 809.1,264.6 809.7,266 810.3,267.4 810.9,268.7 811.5,270.1 812.1,271.5 812.7,272.9 813.3,274.3 813.9,275.7 814.4,277.1 815,278.5 815.6,279.9 816.1,281.3 816.6,282.7 817.2,284.1 817.7,285.5 818.2,286.9 818.7,288.3 819.3,289.8 819.8,291.2 820.3,292.6 820.8,294 821.2,295.5 821.7,296.9 822.2,298.3 822.7,299.8 823.2,301.2 823.6,302.6 824.1,304.1 824.5,305.5 825,306.9 825.4,308.4 825.9,309.8 826.3,311.3 826.8,312.7 827.2,314.2 827.6,315.6 828,317.1 828.5,318.5 828.9,320 829.3,321.4 829.7,322.9 830.1,324.4 830.5,325.8 830.9,327.3 831.3,328.7 831.7,330.2 832.1,331.7 832.5,333.1 832.9,334.6 833.2,336 833.6,337.5 834,339 834.4,340.4 834.8,341.9 835.1,343.4 835.5,344.8 835.9,346.3 836.2,347.8 836.6,349.2 837,350.7 837.3,352.2 837.7,353.6 838.1,355.1 838.4,356.6 838.8,358 839.1,359.5 839.5,361 839.8,362.4 840.2,363.9 840.6,365.4 840.9,366.8 841.3,368.3 841.6,369.8 842,371.2 842.3,372.7 842.7,374.2 843,375.6 843.4,377.1 843.7,378.5 844.1,380 844.4,381.5 844.8,382.9 845.2,384.4 845.5,385.8 845.9,387.3 846.2,388.7 846.6,390.2 847,391.6 847.3,393.1 847.7,394.5 848,396 848.4,397.4 848.8,398.9 849.2,400.3 849.5,401.8 849.9,403.2 850.3,404.6 850.7,406.1 851,407.5 851.4,408.9 851.8,410.4 852.2,411.8 852.6,413.2 853,414.6 853.4,416.1 853.8,417.5 854.2,418.9 854.6,420.3 855,421.7 855.4,423.2 855.8,424.6 856.3,426 856.7,427.4 857.1,428.8 857.5,430.2 858,431.6 858.4,433.1 858.9,434.5 859.3,435.9 859.8,437.3 860.2,438.7 860.7,440.1 861.2,441.6 861.6,443 862.1,444.4 862.6,445.8 863.1,447.3 863.6,448.7 864.1,450.1 864.6,451.6 865.1,453 865.6,454.4 866.1,455.9 866.7,457.3 867.2,458.7 867.7,460.2 868.3,461.7 868.8,463.1 869.4,464.6 870,466 870.6,467.5 871.1,469 871.7,470.4 872.3,471.9 872.9,473.4 873.5,474.9 874.2,476.4 874.8,477.9 875.4,479.4 876.1,480.9 876.7,482.4 877.4,483.9 878.1,485.4 878.8,486.8 879.5,488.2 880.2,489.6 881,490.9 881.8,492.2 882.7,493.4 883.5,494.5 884.5,495.6 885.4,496.6 886.4,497.4 887.5,498.2 888.6,498.9 889.7,499.4 890.9,499.8 892.2,500.1 893.4,500.3 894.7,500.2 895.9,500.1 897.1,499.8 898.2,499.3 899.4,498.7 900.5,498 901.6,497.2 902.6,496.3 903.7,495.2 904.7,494.1 905.7,493 906.7,491.7 907.6,490.4 908.5,489.1 909.4,487.7 910.3,486.3 911.1,484.9 911.9,483.4 912.7,482 913.5,480.5 914.3,479.1 915,477.7 915.7,476.3 916.4,474.8 917,473.4 917.7,472 918.3,470.6 918.9,469.2 919.5,467.8 920.1,466.4 920.6,465 921.2,463.5 921.7,462.1 922.2,460.8 922.7,459.4 923.2,458 923.7,456.6 924.1,455.2 924.6,453.8 925,452.4 925.5,451 925.9,449.6 926.3,448.2 926.7,446.8 927.2,445.4 927.6,444 928,442.6 928.4,441.2 928.8,439.8 929.2,438.3 929.6,436.9 930,435.5 930.3,434.1 930.7,432.7 931.1,431.2 931.5,429.8 931.9,428.4 932.3,426.9 932.7,425.5 933.1,424.1 933.5,422.6 933.9,421.2 934.3,419.7 934.7,418.3 935.1,416.8 935.5,415.4 935.9,413.9 936.2,412.5 936.6,411 937,409.6 937.4,408.1 937.8,406.6 938.2,405.2 938.6,403.7 939,402.3 939.5,400.8 939.9,399.3 940.3,397.9 940.7,396.4 941.1,394.9 941.5,393.5 941.9,392 942.3,390.6 942.7,389.1 943.2,387.6 943.6,386.2 944,384.7 944.4,383.3 944.9,381.8 945.3,380.4 945.7,378.9 946.2,377.4 946.6,376 947.1,374.5 947.5,373.1 948,371.6 948.4,370.2 948.9,368.8 949.3,367.3 949.8,365.9 950.2,364.4 950.7,363 951.2,361.6 951.7,360.1 952.1,358.7 952.6,357.3 953.1,355.9 953.6,354.4 954.1,353 954.6,351.6 955.1,350.2 955.6,348.8 956.1,347.4 956.6,346 957.1,344.6 957.6,343.2 958.1,341.8 958.6,340.4 959.1,338.9 959.6,337.5 960.1,336.1 960.6,334.7 961.2,333.3 961.7,331.9 962.2,330.5 962.7,329.1 963.2,327.7 963.7,326.3 964.2,324.9 964.7,323.5 965.1,322 965.6,320.6 966.1,319.2 966.6,317.8 967.1,316.4 967.5,314.9 968,313.5 968.5,312 968.9,310.6 969.4,309.2 969.8,307.7 970.3,306.3 970.7,304.8" stroke="#000" stroke-width="2.7" fill="none" stroke-linejoin="round"/>
<path d="M620.3,581.9L621.3,580.7 622.2,579.6 623.1,578.4 624.1,577.2 625,576 625.9,574.8 626.8,573.6 627.7,572.4 628.6,571.2 629.5,570 630.4,568.8 631.3,567.6 632.1,566.4 633,565.1 633.9,563.9 634.7,562.7 635.5,561.4 636.4,560.2 637.2,558.9 638,557.7 638.8,556.4 639.6,555.2 640.4,553.9 641.2,552.6 642,551.4 642.8,550.1 643.6,548.8 644.3,547.5 645.1,546.2 645.8,544.9 646.6,543.6 647.3,542.3 648.1,541 648.8,539.7 649.5,538.4 650.3,537.1 651,535.8 651.7,534.5 652.4,533.1 653.1,531.8 653.8,530.5 654.5,529.1 655.2,527.8 655.8,526.5 656.5,525.1 657.2,523.8 657.8,522.4 658.5,521.1 659.2,519.7 659.8,518.4 660.5,517 661.1,515.7 661.7,514.3 662.4,512.9 663,511.6 663.6,510.2 664.2,508.8 664.9,507.4 665.5,506.1 666.1,504.7 666.7,503.3 667.3,501.9 667.9,500.6 668.5,499.2 669.1,497.8 669.7,496.4 670.2,495 670.8,493.6 671.4,492.2 672,490.8 672.6,489.4 673.1,488 673.7,486.6 674.2,485.2 674.8,483.8 675.4,482.4 675.9,481 676.5,479.6 677,478.2 677.6,476.8 678.1,475.4 678.7,474 679.2,472.6 679.7,471.2 680.3,469.8 680.8,468.4 681.3,467 681.9,465.6 682.4,464.2 682.9,462.8 683.4,461.3 684,459.9 684.5,458.5 685,457.1 685.5,455.7 686,454.3 686.5,452.9 687,451.5 687.6,450 688.1,448.6 688.6,447.2 689.1,445.8 689.6,444.4 690.1,443 690.6,441.6 691.1,440.1 691.6,438.7 692.1,437.3 692.6,435.9 693.1,434.5 693.5,433 694,431.6 694.5,430.2 695,428.8 695.5,427.4 696,425.9 696.5,424.5 696.9,423.1 697.4,421.7 697.9,420.3 698.4,418.8 698.8,417.4 699.3,416 699.8,414.6 700.3,413.1 700.7,411.7 701.2,410.3 701.7,408.9 702.1,407.4 702.6,406 703.1,404.6 703.5,403.2 704,401.7 704.5,400.3 704.9,398.9 705.4,397.5 705.8,396 706.3,394.6 706.8,393.2 707.2,391.7 707.7,390.3 708.1,388.9 708.6,387.5 709,386 709.5,384.6 709.9,383.2 710.4,381.7 710.9,380.3 711.3,378.9 711.8,377.4 712.2,376 712.7,374.6 713.1,373.1 713.5,371.7 714,370.3 714.4,368.8 714.9,367.4 715.3,366 715.8,364.5 716.2,363.1 716.7,361.7 717.1,360.2 717.6,358.8 718,357.4 718.5,355.9 718.9,354.5 719.3,353 719.8,351.6 720.2,350.2 720.7,348.7 721.1,347.3 721.6,345.9 722,344.4 722.4,343 722.9,341.5 723.3,340.1 723.8,338.7 724.2,337.2 724.7,335.8 725.1,334.3 725.5,332.9 726,331.5 726.4,330 726.9,328.6 727.3,327.1 727.8,325.7 728.2,324.3 728.6,322.8 729.1,321.4 729.5,319.9 730,318.5 730.4,317 730.9,315.6 731.3,314.2 731.8,312.7 732.2,311.3 732.7,309.8 733.1,308.4 733.6,306.9 734,305.5 734.5,304.1 734.9,302.6 735.4,301.2 735.8,299.7 736.3,298.3 736.8,296.9 737.3,295.4 737.8,294 738.2,292.6 738.7,291.2 739.2,289.7 739.7,288.3 740.3,286.9 740.8,285.5 741.3,284.1 741.8,282.7 742.4,281.3 742.9,279.9 743.5,278.5 744.1,277.1 744.7,275.8 745.3,274.4 745.9,273 746.5,271.7 747.1,270.3 747.8,269 748.4,267.6 749.1,266.3 749.8,265 750.5,263.6 751.2,262.3 751.9,261 752.6,259.7 753.4,258.4 754.1,257.1 754.9,255.9 755.7,254.6 756.5,253.3 757.4,252.1 758.2,250.9 759.1,249.6 760,248.4 760.9,247.2 761.8,246 762.7,244.8 763.7,243.6 764.7,242.5 765.7,241.3 766.7,240.2 767.8,239.1 768.8,238 769.9,236.9 771,235.9 772.2,234.9 773.3,234 774.5,233.1 775.7,232.2 777,231.4 778.2,230.6 779.5,229.9 780.8,229.2 782.2,228.6 783.5,228 784.9,227.6 786.4,227.1 787.8,226.8 789.3,226.5 790.8,226.3 792.4,226.2 794,226.1 795.5,226.1 797.1,226.3 798.6,226.5 800.1,226.8 801.6,227.2 803,227.7 804.4,228.4 805.7,229.1 806.9,229.9 808.1,230.8 809.3,231.8 810.4,232.8 811.4,233.8 812.5,234.9 813.5,235.9 814.5,237 815.4,238.1 816.3,239.3 817.2,240.5 818.1,241.6 818.9,242.8 819.7,244.1 820.5,245.3 821.3,246.6 822,247.8 822.7,249.1 823.4,250.4 824.1,251.8 824.8,253.1 825.4,254.5 826,255.8 826.6,257.2 827.2,258.6 827.8,260 828.3,261.4 828.9,262.8 829.4,264.2 829.9,265.6 830.4,267 830.9,268.5 831.4,269.9 831.9,271.4 832.3,272.8 832.8,274.3 833.2,275.7 833.7,277.2 834.1,278.6 834.5,280.1 835,281.5 835.4,283 835.8,284.5 836.2,285.9 836.6,287.4 837,288.8 837.4,290.3 837.7,291.8 838.1,293.2 838.5,294.7 838.9,296.2 839.2,297.6 839.6,299.1 839.9,300.6 840.3,302.1 840.6,303.5 840.9,305 841.2,306.5 841.6,308 841.9,309.4 842.2,310.9 842.5,312.4 842.8,313.9 843.1,315.4 843.4,316.8 843.7,318.3 844,319.8 844.3,321.3 844.5,322.8 844.8,324.3 845.1,325.7 845.4,327.2 845.6,328.7 845.9,330.2 846.1,331.7 846.4,333.2 846.6,334.7 846.9,336.2 847.1,337.6 847.4,339.1 847.6,340.6 847.9,342.1 848.1,343.6 848.3,345.1 848.6,346.6 848.8,348.1 849,349.6 849.2,351.1 849.5,352.5 849.7,354 849.9,355.5 850.1,357 850.3,358.5 850.6,360 850.8,361.5 851,363 851.2,364.5 851.4,365.9 851.6,367.4 851.8,368.9 852,370.4 852.2,371.9 852.4,373.4 852.6,374.9 852.8,376.3 853.1,377.8 853.3,379.3 853.5,380.8 853.7,382.3 853.9,383.8 854.1,385.2 854.3,386.7 854.5,388.2 854.7,389.7 854.9,391.2 855.1,392.6 855.3,394.1 855.5,395.6 855.7,397.1 856,398.5 856.2,400 856.4,401.5 856.6,402.9 856.8,404.4 857,405.9 857.3,407.4 857.5,408.8 857.7,410.3 857.9,411.7 858.2,413.2 858.4,414.7 858.6,416.1 858.9,417.6 859.1,419.1 859.3,420.5 859.6,422 859.8,423.4 860.1,424.9 860.3,426.3 860.6,427.8 860.8,429.3 861.1,430.7 861.4,432.2 861.6,433.6 861.9,435.1 862.2,436.5 862.4,438 862.7,439.5 863,440.9 863.3,442.4 863.6,443.9 863.9,445.3 864.2,446.8 864.5,448.3 864.8,449.7 865.1,451.2 865.5,452.7 865.8,454.2 866.1,455.6 866.5,457.1 866.8,458.6 867.1,460.1 867.5,461.6 867.9,463.1 868.2,464.6 868.6,466.1 869,467.6 869.3,469.1 869.7,470.6 870.1,472.1 870.5,473.6 870.9,475.1 871.3,476.6 871.7,478.2 872.2,479.7 872.6,481.2 873,482.8 873.5,484.3 873.9,485.9 874.4,487.4 874.9,489 875.3,490.5 875.8,492.1 876.3,493.6 876.9,495.1 877.4,496.6 878,498 878.6,499.4 879.3,500.8 880,502.1 880.7,503.4 881.5,504.5 882.4,505.7 883.3,506.7 884.2,507.6 885.3,508.5 886.4,509.2 887.5,509.9 888.8,510.4 890.1,510.8 891.4,511 892.7,511.1 893.9,511.1 895.1,510.9 896.2,510.5 897.3,510 898.4,509.3 899.4,508.5 900.3,507.6 901.3,506.7 902.2,505.6 903,504.4 903.8,503.1 904.6,501.8 905.4,500.4 906.1,499 906.9,497.6 907.6,496.1 908.3,494.5 909,493 909.6,491.5 910.3,489.9 910.9,488.4 911.6,486.9 912.2,485.4 912.8,483.9 913.5,482.5 914.1,481 914.7,479.6 915.3,478.1 915.9,476.7 916.5,475.3 917.1,473.9 917.7,472.5 918.2,471.1 918.8,469.7 919.4,468.4 919.9,467 920.4,465.6 921,464.3 921.5,462.9 922,461.5 922.6,460.2 923.1,458.8 923.6,457.5 924.1,456.1 924.6,454.8 925,453.4 925.5,452.1 926,450.7 926.4,449.3 926.9,448 927.3,446.6 927.8,445.2 928.2,443.9 928.6,442.5 929,441.1 929.4,439.7 929.8,438.3 930.2,436.9 930.6,435.4 931,434 931.4,432.6 931.8,431.1 932.1,429.7 932.5,428.2 932.8,426.8 933.2,425.3 933.5,423.8 933.9,422.3 934.2,420.9 934.6,419.4 934.9,417.9 935.3,416.4 935.6,414.9 936,413.4 936.3,412 936.7,410.5 937,409 937.4,407.5 937.7,406 938.1,404.5 938.4,403 938.8,401.5 939.2,400.1 939.6,398.6 939.9,397.1 940.3,395.6 940.7,394.1 941.1,392.7 941.5,391.2 942,389.8 942.4,388.3 942.8,386.9 943.3,385.4 943.7,384 944.2,382.6 944.7,381.1 945.1,379.7 945.6,378.3 946.1,376.9 946.6,375.5 947.2,374.1 947.7,372.7 948.2,371.3 948.7,369.9 949.2,368.5 949.8,367.2 950.3,365.8 950.8,364.4 951.3,363 951.9,361.6 952.4,360.2 952.9,358.8 953.4,357.4 953.9,356 954.4,354.6 954.9,353.1 955.3,351.7 955.8,350.3 956.3,348.9 956.8,347.4 957.2,346 957.7,344.6 958.1,343.1 958.6,341.7 959.1,340.3 959.5,338.8 960,337.4 960.4,335.9 960.9,334.5 961.3,333 961.8,331.6 962.2,330.1 962.7,328.7 963.1,327.3 963.6,325.8 964,324.4 964.5,322.9 964.9,321.5 965.4,320.1 965.8,318.6 966.3,317.2 966.8,315.8 967.3,314.4 967.7,312.9 968.2,311.5 968.7,310.1 969.2,308.7 969.7,307.3 970.2,305.9 970.7,304.5" stroke="#dc0f0f" stroke-width="2.7" fill="none" stroke-linejoin="round"/>
<path d="M620.3,634.6L621.7,634.2 623.1,633.8 624.5,633.4 626,632.9 627.4,632.5 628.8,632.1 630.2,631.7 631.7,631.2 633.1,630.8 634.5,630.4 635.9,629.9 637.4,629.5 638.8,629 640.2,628.6 641.7,628.1 643.1,627.7 644.6,627.2 646,626.7 647.4,626.2 648.9,625.8 650.3,625.3 651.7,624.8 653.2,624.3 654.6,623.8 656,623.3 657.4,622.8 658.9,622.2 660.3,621.7 661.7,621.2 663.1,620.6 664.6,620.1 666,619.5 667.4,619 668.8,618.4 670.2,617.8 671.6,617.3 673,616.7 674.4,616.1 675.8,615.5 677.2,614.9 678.6,614.3 680,613.6 681.3,613 682.7,612.4 684.1,611.7 685.5,611.1 686.8,610.4 688.2,609.7 689.5,609.1 690.9,608.4 692.2,607.7 693.5,607 694.8,606.2 696.2,605.5 697.5,604.8 698.8,604.1 700.1,603.3 701.4,602.5 702.6,601.8 703.9,601 705.2,600.2 706.4,599.4 707.7,598.6 708.9,597.8 710.2,596.9 711.4,596.1 712.6,595.2 713.8,594.4 715,593.5 716.2,592.6 717.4,591.7 718.6,590.8 719.7,589.9 720.9,589 722,588 723.1,587.1 724.3,586.1 725.4,585.1 726.5,584.1 727.6,583.1 728.6,582.1 729.7,581.1 730.8,580 731.8,579 732.8,577.9 733.9,576.8 734.9,575.8 735.9,574.7 736.9,573.6 737.8,572.4 738.8,571.3 739.8,570.2 740.7,569 741.7,567.9 742.6,566.7 743.5,565.6 744.5,564.4 745.4,563.2 746.3,562 747.2,560.8 748,559.6 748.9,558.3 749.8,557.1 750.6,555.9 751.5,554.6 752.3,553.4 753.2,552.1 754,550.9 754.8,549.6 755.6,548.3 756.4,547 757.2,545.7 758,544.4 758.8,543.1 759.6,541.8 760.3,540.5 761.1,539.2 761.9,537.9 762.6,536.6 763.4,535.3 764.1,533.9 764.8,532.6 765.6,531.3 766.3,529.9 767,528.6 767.7,527.2 768.4,525.9 769.1,524.6 769.8,523.2 770.5,521.9 771.2,520.5 771.9,519.2 772.6,517.8 773.3,516.4 773.9,515.1 774.6,513.7 775.3,512.4 775.9,511 776.6,509.7 777.3,508.3 777.9,506.9 778.6,505.6 779.2,504.2 779.8,502.8 780.5,501.5 781.1,500.1 781.7,498.7 782.4,497.4 783,496 783.6,494.6 784.2,493.3 784.8,491.9 785.5,490.5 786.1,489.1 786.7,487.8 787.3,486.4 787.9,485 788.5,483.6 789.1,482.3 789.6,480.9 790.2,479.5 790.8,478.1 791.4,476.7 792,475.4 792.6,474 793.1,472.6 793.7,471.2 794.3,469.8 794.9,468.4 795.4,467.1 796,465.7 796.6,464.3 797.1,462.9 797.7,461.5 798.2,460.1 798.8,458.7 799.3,457.4 799.9,456 800.4,454.6 801,453.2 801.5,451.8 802.1,450.4 802.6,449 803.2,447.6 803.7,446.2 804.3,444.8 804.8,443.4 805.3,442 805.9,440.7 806.4,439.3 806.9,437.9 807.5,436.5 808,435.1 808.5,433.7 809.1,432.3 809.6,430.9 810.1,429.5 810.7,428.1 811.2,426.7 811.7,425.3 812.3,423.9 812.8,422.5 813.3,421.1 813.8,419.7 814.4,418.3 814.9,416.9 815.4,415.5 816,414.1 816.5,412.7 817,411.3 817.5,409.9 818.1,408.5 818.6,407.1 819.1,405.7 819.7,404.3 820.2,402.9 820.7,401.5 821.2,400.1 821.8,398.7 822.3,397.3 822.8,395.9 823.4,394.5 823.9,393.1 824.5,391.7 825,390.3 825.6,388.9 826.1,387.5 826.6,386.1 827.2,384.8 827.8,383.4 828.3,382 828.9,380.6 829.4,379.2 830,377.8 830.6,376.4 831.1,375 831.7,373.6 832.3,372.2 832.9,370.8 833.5,369.4 834,368 834.6,366.6 835.2,365.2 835.8,363.8 836.4,362.4 837,361.1 837.7,359.7 838.3,358.3 838.9,356.9 839.5,355.5 840.2,354.1 840.8,352.7 841.4,351.3 842.1,350 842.7,348.6 843.4,347.2 844.1,345.8 844.7,344.4 845.4,343 846.1,341.7 846.8,340.3 847.5,338.9 848.2,337.5 848.9,336.1 849.6,334.8 850.3,333.4 851.1,332 851.8,330.6 852.6,329.3 853.4,328 854.2,326.7 855,325.4 855.9,324.2 856.8,323.1 857.7,322.1 858.8,321.1 859.8,320.2 861,319.4 862.2,318.8 863.5,318.3 864.8,317.9 866.2,317.6 867.7,317.5 869.1,317.6 870.5,317.9 871.9,318.4 873.3,319 874.6,319.8 875.9,320.7 877.1,321.7 878.2,322.8 879.3,323.9 880.2,325.2 881.1,326.4 881.8,327.7 882.5,329.1 883.1,330.4 883.6,331.8 884.1,333.3 884.6,334.7 885,336.1 885.3,337.6 885.6,339.1 886,340.6 886.3,342 886.6,343.5 886.9,345 887.3,346.5 887.6,348 887.9,349.4 888.3,350.9 888.6,352.4 888.9,353.9 889.3,355.3 889.6,356.8 889.9,358.3 890.3,359.7 890.6,361.2 890.9,362.7 891.3,364.1 891.6,365.6 891.9,367.1 892.3,368.5 892.6,370 892.9,371.5 893.3,372.9 893.6,374.4 893.9,375.9 894.3,377.3 894.6,378.8 894.9,380.3 895.2,381.7 895.6,383.2 895.9,384.7 896.2,386.1 896.5,387.6 896.8,389.1 897.1,390.5 897.4,392 897.7,393.5 898,394.9 898.3,396.4 898.5,397.9 898.8,399.4 899.1,400.8 899.4,402.3 899.6,403.8 899.9,405.3 900.1,406.7 900.4,408.2 900.6,409.7 900.8,411.2 901.1,412.7 901.3,414.1 901.5,415.6 901.7,417.1 901.9,418.6 902.1,420.1 902.3,421.6 902.5,423.1 902.7,424.5 902.8,426 903,427.5 903.2,429 903.4,430.5 903.5,432 903.7,433.5 903.9,435 904,436.5 904.2,438 904.4,439.5 904.5,441 904.7,442.5 904.8,444 905,445.5 905.2,447 905.3,448.5 905.5,450 905.6,451.5 905.8,453 906,454.5 906.1,456 906.3,457.5 906.5,459 906.7,460.5 906.8,462 907,463.5 907.2,465 907.4,466.5 907.6,468 907.8,469.5 908,471 908.2,472.5 908.4,474 908.7,475.5 908.9,477 909.1,478.4 909.3,479.9 909.6,481.4 909.8,482.9 910.1,484.4 910.3,485.9 910.5,487.3 910.8,488.8 911,490.3 911.3,491.7 911.5,493.2 911.8,494.7 912,496.1 912.3,497.6 912.5,499 912.8,500.4 913,501.9 913.3,503.3 913.5,504.8 913.8,506.3 914,507.7 914.3,509.2 914.5,510.6 914.7,512.1 915,513.6 915.2,515.1 915.4,516.6 915.7,518.1 915.9,519.7 916.1,521.2 916.4,522.8 916.6,524.3 916.9,525.9 917.2,527.5 917.5,529.1 917.8,530.7 918.2,532.3 918.6,533.9 919,535.5 919.5,537.1 920,538.7 920.6,540.2 921.2,541.7 921.8,542.9 922.4,544 923.1,544.8 923.8,545.4 924.4,545.6 925.1,545.4 925.8,544.8 926.4,544 927,542.9 927.7,541.7 928.2,540.3 928.8,538.8 929.3,537.2 929.7,535.7 930.1,534.1 930.5,532.5 930.9,531 931.2,529.4 931.4,527.9 931.7,526.3 931.9,524.8 932.1,523.2 932.3,521.7 932.4,520.1 932.6,518.6 932.7,517 932.9,515.5 933,513.9 933.1,512.4 933.2,510.9 933.3,509.3 933.5,507.8 933.6,506.3 933.7,504.8 933.8,503.3 933.9,501.8 934,500.3 934.2,498.7 934.3,497.2 934.4,495.7 934.6,494.2 934.7,492.8 934.8,491.3 935,489.8 935.2,488.3 935.3,486.8 935.5,485.3 935.7,483.8 935.9,482.4 936,480.9 936.2,479.4 936.4,477.9 936.6,476.4 936.9,475 937.1,473.5 937.3,472 937.5,470.6 937.7,469.1 938,467.6 938.2,466.2 938.4,464.7 938.7,463.2 938.9,461.8 939.1,460.3 939.4,458.8 939.6,457.4 939.8,455.9 940.1,454.4 940.3,453 940.5,451.5 940.8,450 941,448.5 941.2,447.1 941.4,445.6 941.7,444.1 941.9,442.6 942.1,441.2 942.3,439.7 942.5,438.2 942.7,436.7 942.9,435.2 943.1,433.7 943.3,432.2 943.5,430.7 943.7,429.2 943.9,427.7 944,426.2 944.2,424.7 944.3,423.2 944.5,421.7 944.6,420.2 944.8,418.7 944.9,417.2 945,415.6 945.1,414.1 945.2,412.6 945.4,411.1 945.5,409.5 945.6,408 945.7,406.5 945.8,404.9 945.9,403.4 946,401.9 946.1,400.3 946.2,398.8 946.3,397.3 946.4,395.7 946.5,394.2 946.6,392.7 946.7,391.1 946.9,389.6 947,388.1 947.1,386.6 947.3,385 947.4,383.5 947.5,382 947.7,380.5 947.9,379 948,377.5 948.2,376 948.4,374.5 948.6,373 948.8,371.5 949,370 949.3,368.5 949.5,367 949.8,365.6 950,364.1 950.3,362.6 950.6,361.2 950.9,359.7 951.3,358.3 951.6,356.9 952,355.4 952.3,354 952.7,352.6 953.1,351.2 953.6,349.8 954,348.4 954.5,347 955,345.6 955.5,344.3 956,342.9 956.5,341.6 957.1,340.2 957.7,338.9 958.3,337.6 959,336.3 959.6,335 960.3,333.7 961,332.4 961.8,331.1 962.5,329.9 963.3,328.6 964.2,327.4 965,326.2 965.9,325 966.8,323.8 967.7,322.6 968.7,321.4 969.7,320.2 970.7,319.1" stroke="#1fdf1f" stroke-width="2.7" fill="none" stroke-linejoin="round"/>
<path d="M620.2,218.8L621.7,218.8 623.2,218.9 624.7,218.9 626.2,218.9 627.7,219 629.3,219 630.8,219 632.3,219 633.8,219 635.3,219 636.8,219 638.3,219 639.8,219 641.3,219 642.8,219 644.3,218.9 645.8,218.9 647.3,218.9 648.8,218.9 650.3,218.9 651.8,218.8 653.3,218.8 654.8,218.8 656.3,218.8 657.8,218.7 659.3,218.7 660.8,218.7 662.3,218.7 663.8,218.7 665.3,218.7 666.8,218.6 668.3,218.6 669.8,218.6 671.3,218.6 672.8,218.6 674.3,218.6 675.8,218.7 677.3,218.7 678.8,218.7 680.3,218.7 681.8,218.7 683.3,218.8 684.8,218.8 686.3,218.9 687.9,218.9 689.4,219 690.9,219.1 692.4,219.1 693.9,219.2 695.4,219.3 696.9,219.5 698.4,219.6 700,219.7 701.5,219.9 703,220 704.5,220.2 706,220.4 707.5,220.7 708.9,220.9 710.4,221.2 711.9,221.5 713.4,221.8 714.8,222.1 716.3,222.5 717.7,222.9 719.1,223.3 720.6,223.8 722,224.3 723.4,224.8 724.8,225.3 726.1,225.9 727.5,226.5 728.9,227.1 730.2,227.8 731.5,228.5 732.8,229.2 734.1,230 735.4,230.8 736.7,231.6 737.9,232.4 739.1,233.2 740.3,234.1 741.5,235 742.7,235.9 743.9,236.9 745,237.9 746.1,238.9 747.2,239.9 748.3,240.9 749.3,242 750.3,243.1 751.3,244.2 752.3,245.3 753.3,246.4 754.2,247.6 755.2,248.7 756.1,249.9 757,251.1 757.9,252.3 758.7,253.6 759.6,254.8 760.4,256.1 761.2,257.3 762,258.6 762.8,259.9 763.6,261.2 764.4,262.5 765.1,263.8 765.9,265.1 766.6,266.5 767.4,267.8 768.1,269.2 768.8,270.5 769.5,271.9 770.2,273.2 770.9,274.6 771.5,276 772.2,277.3 772.9,278.7 773.6,280.1 774.2,281.4 774.9,282.8 775.5,284.2 776.2,285.5 776.8,286.9 777.5,288.3 778.1,289.6 778.7,291 779.4,292.3 780,293.7 780.6,295.1 781.2,296.4 781.8,297.8 782.4,299.2 783,300.5 783.6,301.9 784.2,303.3 784.8,304.6 785.3,306 785.9,307.4 786.4,308.8 787,310.2 787.5,311.6 788,313 788.5,314.4 789,315.8 789.5,317.2 789.9,318.6 790.4,320 790.8,321.5 791.3,322.9 791.7,324.3 792.2,325.8 792.6,327.2 793,328.6 793.4,330.1 793.8,331.5 794.2,333 794.6,334.4 795,335.9 795.4,337.3 795.8,338.8 796.2,340.3 796.6,341.7 797,343.2 797.4,344.6 797.8,346.1 798.2,347.5 798.6,349 799,350.4 799.5,351.9 799.9,353.4 800.3,354.8 800.7,356.2 801.2,357.7 801.6,359.1 802,360.6 802.5,362 802.9,363.5 803.4,364.9 803.9,366.3 804.3,367.8 804.8,369.2 805.3,370.6 805.8,372 806.2,373.5 806.7,374.9 807.2,376.3 807.7,377.7 808.2,379.2 808.7,380.6 809.2,382 809.7,383.4 810.2,384.9 810.7,386.3 811.2,387.7 811.7,389.1 812.2,390.5 812.7,392 813.2,393.4 813.7,394.8 814.2,396.2 814.7,397.6 815.2,399.1 815.7,400.5 816.2,401.9 816.7,403.3 817.2,404.7 817.6,406.2 818.1,407.6 818.6,409 819.1,410.4 819.6,411.9 820.1,413.3 820.5,414.7 821,416.1 821.5,417.6 821.9,419 822.4,420.4 822.9,421.8 823.3,423.3 823.8,424.7 824.2,426.1 824.7,427.6 825.1,429 825.6,430.4 826.1,431.9 826.5,433.3 827,434.7 827.4,436.1 827.9,437.6 828.3,439 828.8,440.4 829.2,441.9 829.7,443.3 830.2,444.7 830.6,446.1 831.1,447.6 831.6,449 832,450.4 832.5,451.8 833,453.3 833.4,454.7 833.9,456.1 834.4,457.5 834.9,458.9 835.4,460.3 835.9,461.8 836.4,463.2 836.9,464.6 837.4,466 837.9,467.4 838.4,468.8 838.9,470.2 839.4,471.6 840,473 840.5,474.4 841,475.8 841.6,477.2 842.1,478.6 842.7,480 843.2,481.3 843.8,482.7 844.4,484.1 845,485.5 845.6,486.9 846.2,488.2 846.8,489.6 847.4,491 848.1,492.3 848.7,493.7 849.4,495 850.1,496.4 850.8,497.7 851.5,499.1 852.2,500.4 853,501.8 853.7,503.1 854.5,504.5 855.3,505.8 856.1,507.1 857,508.5 857.9,509.8 858.7,511.1 859.6,512.4 860.6,513.7 861.5,515 862.5,516.2 863.5,517.5 864.5,518.6 865.6,519.8 866.6,520.9 867.7,522 868.9,523 870,524 871.2,524.9 872.4,525.7 873.6,526.5 874.8,527.2 876.1,527.9 877.4,528.4 878.7,528.9 880.1,529.3 881.4,529.6 882.8,529.9 884.2,530.1 885.6,530.1 886.9,530.2 888.3,530.1 889.7,530 891,529.8 892.4,529.5 893.7,529.2 895,528.8 896.2,528.3 897.5,527.7 898.7,527.1 899.9,526.4 901,525.7 902.1,524.9 903.2,524 904.3,523.1 905.4,522.1 906.4,521.1 907.4,520 908.4,518.9 909.3,517.7 910.3,516.5 911.2,515.3 912.1,514 913,512.7 913.8,511.4 914.7,510.1 915.5,508.7 916.3,507.3 917.1,505.9 917.9,504.5 918.7,503 919.5,501.6 920.2,500.1 921,498.6 921.7,497.2 922.5,495.7 923.2,494.2 923.9,492.8 924.6,491.3 925.3,489.9 926,488.4 926.8,487 927.5,485.6 928.2,484.3 928.9,482.9 929.6,481.5 930.2,480.2 930.9,478.9 931.6,477.6 932.3,476.2 933,475 933.7,473.7 934.4,472.4 935.1,471.1 935.8,469.8 936.5,468.6 937.2,467.3 937.9,466.1 938.5,464.8 939.2,463.6 939.9,462.3 940.6,461.1 941.3,459.8 942,458.6 942.7,457.3 943.4,456 944.1,454.8 944.8,453.5 945.5,452.2 946.2,450.9 946.9,449.6 947.6,448.3 948.3,447 949,445.7 949.7,444.3 950.5,443 951.2,441.7 951.9,440.3 952.6,439 953.3,437.6 954,436.3 954.7,434.9 955.3,433.5 956,432.2 956.7,430.8 957.4,429.4 958,428 958.7,426.6 959.4,425.3 960,423.9 960.6,422.5 961.3,421.1 961.9,419.7 962.5,418.3 963.1,416.9 963.7,415.5 964.3,414.1 964.9,412.6 965.4,411.2 966,409.8 966.5,408.4 967,407 967.5,405.6 968,404.2 968.5,402.8 969,401.4 969.4,400 969.9,398.6 970.3,397.2 970.7,395.8" stroke="#555" stroke-width="2.2" fill="none" stroke-linejoin="round" stroke-dasharray="2.2 2.66"/>
<path d="M655.38,699.8 v-5 M655.38,216.6 v5 M675.96,699.8 v-5 M675.96,216.6 v5 M690.56,699.8 v-5 M690.56,216.6 v5 M701.89,699.8 v-5 M701.89,216.6 v5 M711.14,699.8 v-5 M711.14,216.6 v5 M718.96,699.8 v-5 M718.96,216.6 v5 M725.74,699.8 v-5 M725.74,216.6 v5 M731.72,699.8 v-5 M731.72,216.6 v5 M737.07,699.8 v-10 M737.07,216.6 v10 M772.25,699.8 v-5 M772.25,216.6 v5 M792.83,699.8 v-5 M792.83,216.6 v5 M807.43,699.8 v-5 M807.43,216.6 v5 M818.75,699.8 v-5 M818.75,216.6 v5 M828.01,699.8 v-5 M828.01,216.6 v5 M835.83,699.8 v-5 M835.83,216.6 v5 M842.61,699.8 v-5 M842.61,216.6 v5 M848.59,699.8 v-5 M848.59,216.6 v5 M853.93,699.8 v-10 M853.93,216.6 v10 M889.11,699.8 v-5 M889.11,216.6 v5 M909.69,699.8 v-5 M909.69,216.6 v5 M924.29,699.8 v-5 M924.29,216.6 v5 M935.62,699.8 v-5 M935.62,216.6 v5 M944.87,699.8 v-5 M944.87,216.6 v5 M952.7,699.8 v-5 M952.7,216.6 v5 M959.47,699.8 v-5 M959.47,216.6 v5 M965.45,699.8 v-5 M965.45,216.6 v5 M620.2,651.48 h5.5 M970.8,651.48 h-5.5 M620.2,603.16 h10.5 M970.8,603.16 h-10.5 M620.2,554.84 h5.5 M970.8,554.84 h-5.5 M620.2,506.52 h10.5 M970.8,506.52 h-10.5 M620.2,458.2 h5.5 M970.8,458.2 h-5.5 M620.2,409.88 h10.5 M970.8,409.88 h-10.5 M620.2,361.56 h5.5 M970.8,361.56 h-5.5 M620.2,313.24 h10.5 M970.8,313.24 h-10.5 M620.2,264.92 h5.5 M970.8,264.92 h-5.5" stroke="#000" stroke-width="2" fill="none"/>
<rect x="620.2" y="216.6" width="350.6" height="483.2" fill="none" stroke="#000" stroke-width="2"/>
<text x="609.6" y="706.2" class="tl" text-anchor="end">0.0</text>
<text x="609.6" y="609.56" class="tl" text-anchor="end">0.2</text>
<text x="609.6" y="512.92" class="tl" text-anchor="end">0.4</text>
<text x="609.6" y="416.28" class="tl" text-anchor="end">0.6</text>
<text x="609.6" y="319.64" class="tl" text-anchor="end">0.8</text>
<text x="609.6" y="223" class="tl" text-anchor="end">1.0</text>
<text x="624" y="725.2" class="tl" text-anchor="middle">10</text>
<text x="734.5" y="725.2" class="tl" text-anchor="middle">100</text>
<text x="856.5" y="725.2" class="tl" text-anchor="middle">1000</text>
<text x="967" y="725.2" class="tl" text-anchor="middle">10000</text>
<text x="803" y="765" class="at" text-anchor="middle">Time (ns)</text>
<text transform="translate(548.9,574.1) rotate(-90)" class="at">Transient absorptance</text>
<text x="491.6" y="31.5" class="pl">(b)</text>
<rect x="545" y="60" width="176.2" height="118" fill="#3ea94b" stroke="#000" stroke-width="2.6"/><path d="M546,121.1 H558.4 M558.4,86.3 V159.9 M627.1,86.3 V159.9 M558.4,86.3 H567.2 M567.2,86.3 C567.2,65.63 574.57,65.63 574.57,86.3 C574.57,65.63 581.93,65.63 581.93,86.3 C581.93,65.63 589.3,65.63 589.3,86.3 M589.3,86.3 H593.2 M593.2,86.3 L596.1,93.9 L599.72,80.1 L603.34,93.9 L606.96,80.1 L610.58,93.9 L614.2,80.1 L617.1,86.3 M617.1,86.3 H627.1 M558.4,121.1 H581.8 M581.8,121.1 L584.53,128.4 L587.94,114.4 L591.35,128.4 L594.75,114.4 L598.16,128.4 L601.57,114.4 L604.3,121.1 M604.3,121.1 H627.1 M558.4,159.9 H589.1 M598.6,159.9 H627.1 M589.1,151.4 V169 M598.6,151.4 V169 M627.1,121.1 H638.6 M638.6,121.1 C638.6,91.77 649.3,91.77 649.3,121.1 C649.3,91.77 660,91.77 660,121.1 C660,91.77 670.7,91.77 670.7,121.1 M670.7,121.1 H677.5 M677.5,121.1 L681.44,132.2 L686.36,112.4 L691.29,132.2 L696.21,112.4 L701.14,132.2 L706.06,112.4 L710,121.1 M710,121.1 H721" fill="none" stroke="#fff" stroke-width="2.5" stroke-linejoin="round" stroke-linecap="square"/>
<rect x="760.3" y="62.5" width="210.7" height="129.8" fill="#fff" stroke="#444" stroke-width="1.2"/>
<path d="M789.1,82.8 H848.2" stroke="#000" stroke-width="2.6"/>
<text x="855.7" y="91.3" class="lg">10 uH</text>
<path d="M789.1,114.4 H848.2" stroke="#dc0f0f" stroke-width="2.6"/>
<text x="855.7" y="122.9" class="lg">100 uH</text>
<path d="M789.1,146 H848.2" stroke="#1fdf1f" stroke-width="2.6"/>
<text x="855.7" y="154.5" class="lg">1000 uH</text>
<path d="M789.1,177.6 H844.2" stroke="#555" stroke-width="2.2" stroke-dasharray="2.2 2.66"/>
<text x="855.7" y="186.1" class="lg">W/O</text>
<path d="M1331.37,212 V695.1 M1448.23,212 V695.1 M1214.5,598.48 H1565.1 M1214.5,501.86 H1565.1 M1214.5,405.24 H1565.1 M1214.5,308.62 H1565.1" stroke="#cbcbcb" stroke-width="1.1" fill="none"/>
<path d="M1214.8,485.5L1215.3,486.9 1215.8,488.3 1216.3,489.7 1216.8,491.1 1217.3,492.5 1217.8,493.9 1218.4,495.3 1218.9,496.7 1219.5,498.1 1220,499.5 1220.6,500.9 1221.2,502.3 1221.8,503.7 1222.5,505.1 1223.1,506.4 1223.8,507.8 1224.4,509.1 1225.1,510.5 1225.8,511.8 1226.6,513.1 1227.3,514.4 1228.1,515.7 1228.9,517 1229.7,518.3 1230.5,519.6 1231.3,520.8 1232.2,522 1233.1,523.3 1234,524.5 1235,525.6 1235.9,526.8 1236.9,528 1237.9,529.1 1239,530.2 1240.1,531.3 1241.2,532.3 1242.3,533.4 1243.4,534.4 1244.6,535.4 1245.8,536.4 1247.1,537.3 1248.3,538.2 1249.6,539 1250.9,539.8 1252.3,540.6 1253.6,541.2 1255,541.9 1256.4,542.4 1257.8,542.9 1259.2,543.3 1260.6,543.6 1262,543.8 1263.5,544 1264.9,544 1266.4,544 1267.9,543.8 1269.3,543.6 1270.8,543.2 1272.3,542.9 1273.7,542.4 1275.2,541.9 1276.6,541.4 1278.1,540.8 1279.5,540.3 1280.9,539.7 1282.3,539 1283.6,538.4 1285,537.7 1286.3,537 1287.6,536.3 1289,535.6 1290.3,534.8 1291.5,534.1 1292.8,533.3 1294.1,532.5 1295.3,531.6 1296.5,530.8 1297.8,529.9 1299,529.1 1300.2,528.2 1301.3,527.2 1302.5,526.3 1303.7,525.4 1304.8,524.4 1305.9,523.4 1307.1,522.4 1308.2,521.4 1309.3,520.4 1310.4,519.4 1311.4,518.3 1312.5,517.3 1313.6,516.2 1314.6,515.1 1315.6,514 1316.7,512.9 1317.7,511.8 1318.7,510.7 1319.7,509.6 1320.7,508.4 1321.7,507.3 1322.6,506.1 1323.6,505 1324.5,503.8 1325.5,502.6 1326.4,501.4 1327.4,500.2 1328.3,499 1329.2,497.8 1330.1,496.6 1331,495.4 1331.9,494.1 1332.8,492.9 1333.7,491.7 1334.5,490.4 1335.4,489.2 1336.2,488 1337.1,486.7 1337.9,485.5 1338.8,484.2 1339.6,483 1340.4,481.7 1341.3,480.4 1342.1,479.2 1342.9,477.9 1343.7,476.6 1344.5,475.3 1345.3,474.1 1346.1,472.8 1346.8,471.5 1347.6,470.2 1348.4,468.9 1349.2,467.6 1349.9,466.3 1350.7,465 1351.4,463.7 1352.2,462.4 1352.9,461.1 1353.6,459.8 1354.4,458.5 1355.1,457.1 1355.8,455.8 1356.5,454.5 1357.2,453.2 1357.9,451.8 1358.6,450.5 1359.3,449.2 1360,447.8 1360.7,446.5 1361.4,445.2 1362.1,443.8 1362.8,442.5 1363.4,441.1 1364.1,439.8 1364.8,438.5 1365.5,437.1 1366.1,435.8 1366.8,434.4 1367.4,433 1368.1,431.7 1368.7,430.3 1369.4,429 1370,427.6 1370.7,426.3 1371.3,424.9 1371.9,423.5 1372.6,422.2 1373.2,420.8 1373.8,419.4 1374.4,418.1 1375.1,416.7 1375.7,415.3 1376.3,414 1376.9,412.6 1377.5,411.2 1378.1,409.8 1378.7,408.5 1379.4,407.1 1380,405.7 1380.6,404.3 1381.2,403 1381.8,401.6 1382.4,400.2 1383,398.8 1383.6,397.5 1384.2,396.1 1384.8,394.7 1385.4,393.3 1386,392 1386.5,390.6 1387.1,389.2 1387.7,387.8 1388.3,386.4 1388.9,385.1 1389.5,383.7 1390.1,382.3 1390.7,380.9 1391.3,379.6 1391.9,378.2 1392.5,376.8 1393.1,375.5 1393.6,374.1 1394.2,372.7 1394.8,371.3 1395.4,370 1396,368.6 1396.6,367.2 1397.2,365.9 1397.8,364.5 1398.4,363.1 1399,361.8 1399.6,360.4 1400.2,359 1400.8,357.7 1401.4,356.3 1402.1,354.9 1402.7,353.6 1403.3,352.2 1403.9,350.8 1404.5,349.5 1405.2,348.1 1405.8,346.8 1406.4,345.4 1407,344.1 1407.7,342.7 1408.3,341.3 1409,340 1409.6,338.6 1410.3,337.3 1410.9,335.9 1411.6,334.6 1412.3,333.2 1412.9,331.9 1413.6,330.5 1414.3,329.2 1415,327.8 1415.7,326.5 1416.4,325.2 1417.1,323.8 1417.8,322.5 1418.5,321.1 1419.2,319.8 1419.9,318.4 1420.6,317.1 1421.4,315.8 1422.1,314.4 1422.9,313.1 1423.6,311.8 1424.4,310.4 1425.1,309.1 1425.9,307.8 1426.7,306.4 1427.5,305.1 1428.3,303.8 1429.1,302.5 1429.9,301.1 1430.7,299.8 1431.5,298.5 1432.4,297.2 1433.2,295.9 1434.1,294.5 1434.9,293.2 1435.8,291.9 1436.7,290.6 1437.5,289.3 1438.4,288 1439.3,286.7 1440.3,285.5 1441.2,284.3 1442.2,283.2 1443.1,282.1 1444.1,281.1 1445.1,280.2 1446.2,279.5 1447.3,278.8 1448.4,278.2 1449.5,277.8 1450.7,277.6 1451.9,277.5 1453.1,277.5 1454.4,277.8 1455.7,278.2 1457,278.7 1458.3,279.4 1459.6,280.2 1460.9,281.1 1462.1,282.1 1463.3,283.2 1464.5,284.4 1465.6,285.6 1466.6,286.9 1467.5,288.2 1468.4,289.5 1469.1,290.8 1469.8,292.2 1470.5,293.6 1471,295 1471.6,296.4 1472.1,297.8 1472.6,299.3 1473.1,300.7 1473.6,302.1 1474,303.6 1474.5,305 1475,306.4 1475.4,307.9 1475.9,309.3 1476.3,310.8 1476.7,312.2 1477.2,313.7 1477.6,315.1 1478,316.6 1478.4,318 1478.8,319.5 1479.2,320.9 1479.6,322.4 1480,323.8 1480.3,325.3 1480.7,326.8 1481.1,328.2 1481.4,329.7 1481.8,331.2 1482.2,332.6 1482.5,334.1 1482.8,335.6 1483.2,337 1483.5,338.5 1483.8,340 1484.2,341.4 1484.5,342.9 1484.8,344.4 1485.1,345.9 1485.4,347.3 1485.7,348.8 1486,350.3 1486.3,351.8 1486.6,353.3 1486.9,354.7 1487.2,356.2 1487.4,357.7 1487.7,359.2 1488,360.7 1488.2,362.2 1488.5,363.6 1488.8,365.1 1489,366.6 1489.3,368.1 1489.5,369.6 1489.8,371.1 1490,372.5 1490.3,374 1490.5,375.5 1490.7,377 1491,378.5 1491.2,380 1491.4,381.5 1491.7,382.9 1491.9,384.4 1492.1,385.9 1492.3,387.4 1492.5,388.9 1492.7,390.4 1493,391.9 1493.2,393.3 1493.4,394.8 1493.6,396.3 1493.8,397.8 1494,399.3 1494.2,400.8 1494.4,402.2 1494.6,403.7 1494.8,405.2 1495,406.7 1495.2,408.2 1495.4,409.6 1495.6,411.1 1495.8,412.6 1496,414.1 1496.1,415.6 1496.3,417 1496.5,418.5 1496.7,420 1496.9,421.5 1497.1,422.9 1497.3,424.4 1497.5,425.9 1497.6,427.4 1497.8,428.8 1498,430.3 1498.2,431.8 1498.4,433.3 1498.6,434.8 1498.8,436.2 1498.9,437.7 1499.1,439.2 1499.3,440.7 1499.5,442.2 1499.7,443.6 1499.8,445.1 1500,446.6 1500.2,448.1 1500.4,449.6 1500.6,451.1 1500.7,452.5 1500.9,454 1501.1,455.5 1501.3,457 1501.5,458.5 1501.7,460 1501.8,461.5 1502,463 1502.2,464.5 1502.4,466 1502.6,467.5 1502.8,469 1503,470.5 1503.1,472 1503.3,473.5 1503.5,475 1503.7,476.5 1503.9,478 1504.1,479.5 1504.3,481 1504.5,482.6 1504.7,484.1 1504.8,485.6 1505,487.1 1505.2,488.6 1505.4,490.2 1505.6,491.7 1505.8,493.2 1506,494.8 1506.2,496.3 1506.4,497.8 1506.6,499.4 1506.8,500.9 1507.1,502.5 1507.3,504 1507.5,505.6 1507.7,507.1 1507.9,508.7 1508.2,510.2 1508.4,511.7 1508.7,513.3 1509,514.8 1509.3,516.3 1509.6,517.8 1510,519.2 1510.4,520.7 1510.8,522.1 1511.2,523.6 1511.7,524.9 1512.2,526.3 1512.8,527.7 1513.4,529 1514,530.3 1514.7,531.5 1515.4,532.7 1516.2,533.9 1517.1,535.1 1518,536.2 1518.9,537.2 1519.9,538.2 1521,539.2 1522.1,540.1 1523.3,540.9 1524.5,541.6 1525.7,542.2 1527,542.7 1528.4,543.1 1529.8,543.4 1531.2,543.5 1532.7,543.6 1534.2,543.5 1535.7,543.4 1537.2,543.1 1538.8,542.8 1540.3,542.4 1541.9,542 1543.5,541.6 1545,541.1 1546.6,540.6 1548.2,540.2 1549.7,539.7 1551.3,539.3 1552.8,538.9 1554.4,538.6 1555.9,538.4 1557.4,538.3 1558.9,538.3 1560.3,538.4 1561.7,538.6 1563.1,539 1564.5,539.5" stroke="#000" stroke-width="2.7" fill="none" stroke-linejoin="round"/>
<path d="M1214.7,223.7L1216.1,224.4 1217.5,225.1 1218.8,225.8 1220.1,226.6 1221.4,227.5 1222.6,228.3 1223.8,229.2 1224.9,230.2 1226.1,231.1 1227.2,232.1 1228.2,233.2 1229.3,234.2 1230.3,235.3 1231.3,236.4 1232.2,237.6 1233.2,238.7 1234.1,239.9 1235,241.1 1235.8,242.3 1236.7,243.6 1237.5,244.8 1238.3,246.1 1239.1,247.4 1239.9,248.7 1240.7,250 1241.4,251.3 1242.2,252.6 1242.9,254 1243.6,255.3 1244.3,256.7 1245,258 1245.7,259.4 1246.4,260.7 1247.1,262.1 1247.7,263.4 1248.4,264.8 1249.1,266.1 1249.7,267.5 1250.4,268.9 1251,270.2 1251.7,271.6 1252.3,272.9 1252.9,274.3 1253.5,275.7 1254.1,277 1254.8,278.4 1255.4,279.8 1256,281.1 1256.6,282.5 1257.1,283.9 1257.7,285.2 1258.3,286.6 1258.9,288 1259.4,289.4 1260,290.8 1260.6,292.1 1261.1,293.5 1261.7,294.9 1262.2,296.3 1262.8,297.7 1263.3,299.1 1263.8,300.5 1264.4,301.9 1264.9,303.3 1265.4,304.7 1265.9,306.1 1266.4,307.5 1266.9,308.9 1267.5,310.3 1268,311.7 1268.4,313.1 1268.9,314.5 1269.4,315.9 1269.9,317.4 1270.4,318.8 1270.9,320.2 1271.4,321.6 1271.8,323.1 1272.3,324.5 1272.8,325.9 1273.3,327.4 1273.7,328.8 1274.2,330.2 1274.6,331.7 1275.1,333.1 1275.6,334.6 1276,336 1276.5,337.4 1276.9,338.9 1277.3,340.3 1277.8,341.8 1278.2,343.2 1278.7,344.7 1279.1,346.1 1279.6,347.6 1280,349 1280.4,350.5 1280.9,351.9 1281.3,353.4 1281.7,354.9 1282.2,356.3 1282.6,357.8 1283,359.2 1283.5,360.7 1283.9,362.1 1284.3,363.6 1284.7,365.1 1285.2,366.5 1285.6,368 1286,369.4 1286.4,370.9 1286.9,372.3 1287.3,373.8 1287.7,375.2 1288.2,376.7 1288.6,378.2 1289,379.6 1289.4,381.1 1289.9,382.5 1290.3,384 1290.7,385.4 1291.2,386.9 1291.6,388.3 1292,389.8 1292.5,391.2 1292.9,392.7 1293.3,394.1 1293.8,395.5 1294.2,397 1294.7,398.4 1295.1,399.9 1295.6,401.3 1296,402.7 1296.5,404.2 1296.9,405.6 1297.4,407 1297.8,408.5 1298.3,409.9 1298.7,411.3 1299.2,412.7 1299.7,414.2 1300.1,415.6 1300.6,417 1301.1,418.4 1301.6,419.8 1302,421.2 1302.5,422.6 1303,424 1303.5,425.4 1304,426.8 1304.5,428.2 1305,429.6 1305.5,431 1306,432.4 1306.5,433.8 1307,435.2 1307.6,436.5 1308.1,437.9 1308.6,439.3 1309.1,440.7 1309.7,442 1310.2,443.4 1310.8,444.7 1311.3,446.1 1311.9,447.4 1312.5,448.8 1313,450.1 1313.6,451.5 1314.2,452.8 1314.9,454.2 1315.5,455.5 1316.1,456.9 1316.8,458.2 1317.5,459.5 1318.1,460.9 1318.8,462.2 1319.6,463.6 1320.3,464.9 1321.1,466.2 1321.8,467.6 1322.6,468.9 1323.4,470.3 1324.3,471.6 1325.2,472.9 1326,474.3 1326.9,475.6 1327.9,477 1328.8,478.3 1329.8,479.6 1330.8,480.9 1331.9,482.2 1332.9,483.4 1334,484.6 1335.1,485.6 1336.2,486.7 1337.3,487.6 1338.5,488.4 1339.7,489.2 1340.8,489.8 1342.1,490.3 1343.3,490.6 1344.5,490.8 1345.8,490.9 1347,490.8 1348.3,490.5 1349.6,490.1 1350.9,489.6 1352.1,488.9 1353.4,488.2 1354.6,487.3 1355.8,486.3 1357,485.3 1358.1,484.2 1359.1,483 1360.1,481.8 1361,480.5 1361.9,479.2 1362.7,477.9 1363.5,476.6 1364.2,475.2 1364.9,473.9 1365.5,472.5 1366.1,471.1 1366.7,469.7 1367.3,468.3 1367.9,466.9 1368.5,465.5 1369.1,464.1 1369.7,462.7 1370.2,461.3 1370.8,459.9 1371.4,458.5 1372,457.1 1372.5,455.7 1373.1,454.3 1373.7,452.9 1374.2,451.5 1374.8,450.1 1375.3,448.7 1375.9,447.3 1376.4,445.9 1377,444.5 1377.5,443.1 1378,441.7 1378.6,440.3 1379.1,438.8 1379.6,437.4 1380.2,436 1380.7,434.6 1381.2,433.2 1381.8,431.8 1382.3,430.4 1382.8,429 1383.3,427.6 1383.8,426.2 1384.4,424.8 1384.9,423.4 1385.4,422 1385.9,420.6 1386.4,419.1 1386.9,417.7 1387.4,416.3 1387.9,414.9 1388.4,413.5 1388.9,412.1 1389.4,410.7 1389.9,409.3 1390.4,407.9 1390.9,406.4 1391.4,405 1391.9,403.6 1392.3,402.2 1392.8,400.8 1393.3,399.4 1393.8,398 1394.3,396.5 1394.8,395.1 1395.3,393.7 1395.7,392.3 1396.2,390.9 1396.7,389.4 1397.2,388 1397.6,386.6 1398.1,385.2 1398.6,383.8 1399.1,382.3 1399.5,380.9 1400,379.5 1400.5,378.1 1401,376.7 1401.4,375.2 1401.9,373.8 1402.4,372.4 1402.8,371 1403.3,369.5 1403.8,368.1 1404.2,366.7 1404.7,365.3 1405.2,363.8 1405.7,362.4 1406.1,361 1406.6,359.5 1407.1,358.1 1407.5,356.7 1408,355.2 1408.5,353.8 1408.9,352.4 1409.4,350.9 1409.9,349.5 1410.3,348.1 1410.8,346.6 1411.3,345.2 1411.7,343.8 1412.2,342.3 1412.7,340.9 1413.1,339.4 1413.6,338 1414.1,336.6 1414.5,335.1 1415,333.7 1415.5,332.2 1416,330.8 1416.5,329.4 1416.9,327.9 1417.4,326.5 1417.9,325.1 1418.4,323.6 1418.9,322.2 1419.4,320.8 1420,319.3 1420.5,317.9 1421,316.5 1421.6,315.1 1422.1,313.7 1422.7,312.3 1423.2,310.9 1423.8,309.5 1424.4,308.1 1425,306.7 1425.6,305.4 1426.2,304 1426.9,302.6 1427.5,301.3 1428.2,299.9 1428.8,298.6 1429.5,297.2 1430.2,295.9 1431,294.6 1431.7,293.3 1432.4,292 1433.2,290.7 1434,289.4 1434.8,288.2 1435.6,286.9 1436.5,285.7 1437.3,284.4 1438.2,283.2 1439.1,282 1440,280.8 1440.9,279.6 1441.9,278.4 1442.9,277.3 1443.9,276.1 1444.9,275 1446,273.9 1447.1,272.9 1448.2,271.9 1449.3,271.1 1450.5,270.4 1451.7,269.9 1453,269.7 1454.3,269.6 1455.7,269.8 1457.1,270.3 1458.5,270.9 1459.9,271.7 1461.2,272.5 1462.5,273.5 1463.6,274.5 1464.7,275.5 1465.8,276.6 1466.7,277.7 1467.6,278.9 1468.5,280.1 1469.3,281.3 1470,282.6 1470.7,283.9 1471.3,285.2 1471.9,286.6 1472.4,288 1473,289.4 1473.4,290.8 1473.9,292.3 1474.3,293.7 1474.7,295.2 1475.1,296.7 1475.5,298.2 1475.8,299.7 1476.2,301.2 1476.5,302.8 1476.9,304.3 1477.2,305.8 1477.5,307.3 1477.9,308.8 1478.2,310.3 1478.6,311.8 1479,313.3 1479.3,314.8 1479.7,316.3 1480.1,317.7 1480.4,319.2 1480.8,320.7 1481.2,322.2 1481.6,323.6 1482,325.1 1482.3,326.6 1482.7,328 1483.1,329.5 1483.5,330.9 1483.8,332.4 1484.2,333.8 1484.6,335.3 1485,336.7 1485.3,338.2 1485.7,339.6 1486,341.1 1486.4,342.5 1486.8,344 1487.1,345.5 1487.4,346.9 1487.8,348.4 1488.1,349.8 1488.4,351.3 1488.7,352.7 1489,354.2 1489.3,355.6 1489.6,357.1 1489.9,358.6 1490.2,360 1490.5,361.5 1490.7,363 1491,364.4 1491.2,365.9 1491.5,367.4 1491.7,368.9 1492,370.3 1492.2,371.8 1492.4,373.3 1492.6,374.8 1492.8,376.2 1493.1,377.7 1493.3,379.2 1493.5,380.7 1493.7,382.2 1493.8,383.7 1494,385.1 1494.2,386.6 1494.4,388.1 1494.6,389.6 1494.7,391.1 1494.9,392.6 1495.1,394.1 1495.2,395.6 1495.4,397.1 1495.6,398.6 1495.7,400.1 1495.9,401.5 1496,403 1496.2,404.5 1496.3,406 1496.5,407.5 1496.6,409 1496.7,410.5 1496.9,412 1497,413.5 1497.2,415 1497.3,416.5 1497.4,418 1497.6,419.5 1497.7,421 1497.8,422.5 1498,424 1498.1,425.5 1498.2,427 1498.4,428.5 1498.5,430 1498.6,431.5 1498.8,433 1498.9,434.6 1499,436.1 1499.2,437.6 1499.3,439.1 1499.5,440.6 1499.6,442.1 1499.7,443.6 1499.9,445.1 1500,446.6 1500.2,448.1 1500.3,449.6 1500.5,451.1 1500.6,452.6 1500.8,454.1 1501,455.6 1501.1,457.1 1501.3,458.6 1501.5,460.1 1501.6,461.6 1501.8,463.1 1502,464.6 1502.2,466.1 1502.4,467.6 1502.6,469.1 1502.8,470.6 1503,472.1 1503.2,473.6 1503.4,475.1 1503.6,476.5 1503.8,478 1504,479.5 1504.3,481 1504.5,482.5 1504.8,484 1505,485.5 1505.3,487 1505.5,488.5 1505.8,490 1506.1,491.4 1506.3,492.9 1506.6,494.4 1506.9,495.9 1507.2,497.4 1507.5,498.8 1507.8,500.3 1508.2,501.8 1508.5,503.3 1508.8,504.8 1509.2,506.2 1509.5,507.7 1509.9,509.2 1510.3,510.6 1510.6,512.1 1511,513.6 1511.4,515 1511.8,516.5 1512.2,518 1512.6,519.4 1513.1,520.9 1513.5,522.3 1514,523.8 1514.4,525.2 1514.9,526.7 1515.4,528.1 1515.9,529.5 1516.5,530.9 1517.1,532.2 1517.7,533.4 1518.4,534.7 1519.1,535.8 1519.9,536.9 1520.8,537.9 1521.7,538.8 1522.7,539.6 1523.7,540.4 1524.9,541 1526.1,541.5 1527.4,541.9 1528.8,542.2 1530.3,542.3 1531.9,542.4 1533.6,542.3 1535.3,542.1 1537,541.9 1538.8,541.6 1540.5,541.2 1542.3,540.9 1544,540.5 1545.7,540.1 1547.3,539.8 1548.8,539.4 1550.3,539.2 1551.6,538.9 1552.9,538.7 1554.2,538.6 1555.5,538.5 1556.8,538.4 1558.2,538.4 1559.6,538.5 1561.1,538.5 1562.7,538.6 1564.5,538.8" stroke="#dc0f0f" stroke-width="2.7" fill="none" stroke-linejoin="round"/>
<path d="M1214.7,213.8L1216.2,213.8 1217.7,213.8 1219.2,213.9 1220.7,213.9 1222.2,213.9 1223.7,213.9 1225.2,213.9 1226.8,213.9 1228.3,213.9 1229.8,213.9 1231.3,213.9 1232.8,213.9 1234.3,213.9 1235.8,213.8 1237.3,213.8 1238.8,213.8 1240.3,213.8 1241.8,213.8 1243.3,213.8 1244.8,213.8 1246.3,213.8 1247.8,213.8 1249.3,213.8 1250.8,213.8 1252.3,213.7 1253.8,213.7 1255.3,213.7 1256.8,213.7 1258.3,213.7 1259.8,213.7 1261.3,213.8 1262.8,213.8 1264.3,213.8 1265.8,213.8 1267.3,213.8 1268.8,213.8 1270.3,213.9 1271.8,213.9 1273.3,213.9 1274.8,214 1276.3,214 1277.8,214.1 1279.4,214.1 1280.9,214.2 1282.4,214.3 1283.9,214.4 1285.4,214.5 1286.9,214.6 1288.4,214.7 1289.9,214.8 1291.4,215 1292.9,215.1 1294.4,215.3 1295.9,215.5 1297.3,215.7 1298.8,215.9 1300.3,216.2 1301.8,216.4 1303.3,216.7 1304.7,217 1306.2,217.3 1307.7,217.7 1309.1,218 1310.6,218.4 1312,218.8 1313.5,219.2 1314.9,219.7 1316.3,220.2 1317.7,220.7 1319.2,221.2 1320.6,221.8 1322,222.3 1323.3,222.9 1324.7,223.5 1326.1,224.2 1327.4,224.9 1328.8,225.5 1330.1,226.3 1331.4,227 1332.7,227.8 1333.9,228.5 1335.2,229.4 1336.4,230.2 1337.7,231.1 1338.9,231.9 1340.1,232.8 1341.2,233.8 1342.4,234.7 1343.5,235.7 1344.6,236.7 1345.7,237.7 1346.7,238.8 1347.7,239.8 1348.8,240.9 1349.7,242.1 1350.7,243.2 1351.6,244.4 1352.5,245.6 1353.4,246.8 1354.3,248 1355.1,249.2 1355.9,250.5 1356.7,251.8 1357.5,253 1358.3,254.3 1359.1,255.7 1359.8,257 1360.5,258.3 1361.2,259.7 1361.9,261 1362.6,262.4 1363.3,263.8 1364,265.2 1364.6,266.6 1365.3,267.9 1365.9,269.3 1366.6,270.7 1367.2,272.1 1367.8,273.5 1368.5,274.9 1369.1,276.3 1369.7,277.7 1370.3,279.1 1371,280.5 1371.6,281.9 1372.2,283.2 1372.8,284.6 1373.5,286 1374.1,287.3 1374.7,288.7 1375.4,290 1376,291.3 1376.6,292.7 1377.3,294 1377.9,295.3 1378.5,296.7 1379.2,298 1379.8,299.3 1380.5,300.6 1381.1,302 1381.7,303.3 1382.4,304.6 1383,305.9 1383.7,307.3 1384.3,308.6 1384.9,309.9 1385.6,311.3 1386.2,312.6 1386.8,313.9 1387.5,315.3 1388.1,316.6 1388.7,318 1389.3,319.3 1389.9,320.7 1390.6,322.1 1391.2,323.4 1391.8,324.8 1392.4,326.2 1393,327.6 1393.6,329 1394.2,330.4 1394.8,331.8 1395.4,333.3 1396,334.7 1396.6,336.2 1397.1,337.6 1397.7,339.1 1398.3,340.6 1398.9,342 1399.5,343.5 1400.1,345 1400.7,346.4 1401.3,347.9 1401.9,349.3 1402.6,350.7 1403.3,352.1 1404,353.5 1404.7,354.8 1405.4,356.1 1406.2,357.4 1407,358.6 1407.9,359.8 1408.8,361 1409.7,362.1 1410.7,363.2 1411.7,364.2 1412.7,365.1 1413.8,366 1415,366.9 1416.2,367.6 1417.5,368.4 1418.8,369 1420.2,369.6 1421.6,370 1423,370.4 1424.4,370.6 1425.8,370.7 1427.2,370.7 1428.6,370.5 1429.8,370.1 1431,369.5 1432.1,368.7 1433.1,367.7 1434,366.5 1434.9,365.2 1435.6,363.8 1436.3,362.3 1437,360.7 1437.6,359.2 1438.3,357.6 1438.9,356 1439.5,354.5 1440,353 1440.6,351.5 1441.1,350 1441.7,348.5 1442.2,347 1442.7,345.5 1443.2,344.1 1443.6,342.6 1444.1,341.2 1444.5,339.7 1445,338.3 1445.4,336.9 1445.8,335.4 1446.2,334 1446.6,332.6 1447,331.2 1447.4,329.8 1447.8,328.4 1448.2,327 1448.5,325.6 1448.9,324.2 1449.3,322.7 1449.6,321.3 1450,319.9 1450.3,318.5 1450.7,317.1 1451,315.7 1451.3,314.3 1451.7,312.9 1452,311.5 1452.4,310 1452.7,308.6 1453,307.2 1453.4,305.7 1453.7,304.3 1454.1,302.8 1454.5,301.4 1454.9,299.9 1455.3,298.5 1455.7,297 1456.1,295.6 1456.6,294.1 1457.1,292.7 1457.7,291.3 1458.3,289.8 1458.9,288.4 1459.6,287 1460.3,285.7 1461,284.3 1461.8,282.9 1462.7,281.6 1463.6,280.3 1464.6,278.9 1465.6,277.7 1466.7,276.4 1467.9,275.2 1469.1,274.1 1470.3,273.2 1471.4,272.4 1472.6,271.8 1473.8,271.4 1474.9,271.2 1476,271.4 1477,271.8 1478,272.5 1478.9,273.4 1479.8,274.5 1480.6,275.8 1481.3,277.2 1482,278.7 1482.6,280.3 1483.2,281.9 1483.7,283.5 1484.2,285.1 1484.6,286.7 1485,288.3 1485.3,289.8 1485.6,291.3 1485.9,292.8 1486.1,294.2 1486.4,295.7 1486.6,297.1 1486.8,298.6 1487,300 1487.2,301.4 1487.5,302.9 1487.7,304.3 1487.9,305.8 1488.2,307.2 1488.4,308.7 1488.7,310.1 1489,311.6 1489.2,313.1 1489.5,314.5 1489.8,316 1490.1,317.5 1490.4,318.9 1490.7,320.4 1491,321.9 1491.3,323.4 1491.6,324.8 1491.9,326.3 1492.2,327.8 1492.5,329.3 1492.8,330.8 1493.1,332.2 1493.4,333.7 1493.7,335.2 1494,336.7 1494.3,338.2 1494.6,339.7 1494.9,341.2 1495.2,342.7 1495.5,344.1 1495.8,345.6 1496.1,347.1 1496.4,348.6 1496.6,350.1 1496.9,351.6 1497.2,353.1 1497.4,354.5 1497.7,356 1498,357.5 1498.2,359 1498.5,360.5 1498.7,362 1498.9,363.4 1499.2,364.9 1499.4,366.4 1499.6,367.9 1499.8,369.4 1500.1,370.8 1500.3,372.3 1500.5,373.8 1500.7,375.3 1500.9,376.8 1501.1,378.2 1501.3,379.7 1501.4,381.2 1501.6,382.7 1501.8,384.2 1502,385.6 1502.2,387.1 1502.3,388.6 1502.5,390.1 1502.7,391.6 1502.8,393.1 1503,394.5 1503.2,396 1503.3,397.5 1503.5,399 1503.6,400.5 1503.8,402 1503.9,403.4 1504,404.9 1504.2,406.4 1504.3,407.9 1504.5,409.4 1504.6,410.9 1504.7,412.4 1504.9,413.9 1505,415.4 1505.1,416.8 1505.2,418.3 1505.4,419.8 1505.5,421.3 1505.6,422.8 1505.7,424.3 1505.8,425.8 1505.9,427.3 1506.1,428.8 1506.2,430.3 1506.3,431.8 1506.4,433.3 1506.5,434.8 1506.6,436.4 1506.7,437.9 1506.8,439.4 1506.9,440.9 1507.1,442.4 1507.2,443.9 1507.3,445.4 1507.4,446.9 1507.5,448.5 1507.6,450 1507.7,451.5 1507.8,453 1507.9,454.5 1508,456.1 1508.2,457.6 1508.3,459.1 1508.4,460.6 1508.5,462.1 1508.7,463.7 1508.8,465.2 1508.9,466.7 1509.1,468.2 1509.2,469.7 1509.3,471.3 1509.5,472.8 1509.6,474.3 1509.8,475.8 1509.9,477.3 1510.1,478.8 1510.3,480.3 1510.5,481.8 1510.6,483.3 1510.8,484.8 1511,486.3 1511.2,487.8 1511.4,489.3 1511.6,490.8 1511.9,492.3 1512.1,493.8 1512.3,495.3 1512.6,496.7 1512.8,498.2 1513.1,499.7 1513.3,501.2 1513.6,502.6 1513.9,504.1 1514.2,505.6 1514.5,507 1514.8,508.5 1515.1,509.9 1515.4,511.3 1515.8,512.8 1516.1,514.2 1516.5,515.6 1516.8,517.1 1517.2,518.5 1517.6,519.9 1518,521.3 1518.4,522.7 1518.8,524.1 1519.3,525.5 1519.7,526.9 1520.2,528.2 1520.6,529.6 1521.1,531 1521.6,532.3 1522.1,533.7 1522.7,534.8 1523.4,535.4 1524.3,535.3 1525.3,534.6 1526.4,533.4 1527.5,531.8 1528.6,530.1 1529.5,528.2 1530.4,526.4 1531.3,524.7 1532.2,523.2 1533.1,521.9 1534,520.9 1535.1,520.3 1536.3,520 1537.5,520.1 1538.7,520.5 1539.8,521.1 1540.9,522 1541.8,523.2 1542.6,524.7 1543.3,526.2 1543.9,527.9 1544.5,529.5 1545.2,531.1 1545.9,532.5 1546.7,533.7 1547.7,534.6 1548.8,535.3 1550,535.7 1551.3,536.1 1552.7,536.3 1554.1,536.3 1555.6,536.4 1557.1,536.4 1558.6,536.4 1560.1,536.4 1561.6,536.5 1563.1,536.7 1564.5,537.1" stroke="#1fdf1f" stroke-width="2.7" fill="none" stroke-linejoin="round"/>
<path d="M1214.8,614L1216.3,613.4 1217.7,612.8 1219.2,612.2 1220.6,611.6 1222,610.9 1223.3,610.2 1224.7,609.5 1226,608.7 1227.3,608 1228.6,607.2 1229.8,606.4 1231.1,605.6 1232.3,604.7 1233.5,603.9 1234.7,603 1235.9,602.1 1237.1,601.2 1238.2,600.2 1239.4,599.3 1240.5,598.3 1241.6,597.3 1242.7,596.3 1243.8,595.3 1244.9,594.3 1245.9,593.2 1247,592.2 1248,591.1 1249,590 1250,588.9 1251.1,587.8 1252.1,586.7 1253,585.6 1254,584.5 1255,583.4 1256,582.2 1256.9,581.1 1257.9,579.9 1258.8,578.7 1259.8,577.6 1260.7,576.4 1261.7,575.2 1262.6,574 1263.5,572.9 1264.5,571.7 1265.4,570.5 1266.3,569.3 1267.3,568.1 1268.2,566.9 1269.1,565.7 1270,564.5 1271,563.3 1271.9,562.1 1272.8,560.9 1273.7,559.7 1274.7,558.5 1275.6,557.3 1276.5,556.1 1277.4,554.9 1278.3,553.7 1279.2,552.5 1280.2,551.3 1281.1,550.1 1282,548.9 1282.9,547.7 1283.8,546.5 1284.7,545.2 1285.6,544 1286.4,542.8 1287.3,541.6 1288.2,540.4 1289.1,539.1 1290,537.9 1290.8,536.7 1291.7,535.4 1292.6,534.2 1293.4,533 1294.3,531.7 1295.1,530.5 1296,529.2 1296.8,528 1297.6,526.7 1298.5,525.5 1299.3,524.2 1300.1,522.9 1300.9,521.7 1301.7,520.4 1302.5,519.1 1303.3,517.9 1304.1,516.6 1304.8,515.3 1305.6,514 1306.4,512.7 1307.1,511.4 1307.9,510.1 1308.6,508.8 1309.3,507.5 1310.1,506.2 1310.8,504.9 1311.5,503.6 1312.2,502.2 1312.9,500.9 1313.5,499.6 1314.2,498.2 1314.9,496.9 1315.5,495.5 1316.2,494.2 1316.8,492.8 1317.5,491.5 1318.1,490.1 1318.7,488.8 1319.3,487.4 1319.9,486 1320.5,484.6 1321.1,483.3 1321.7,481.9 1322.3,480.5 1322.9,479.1 1323.5,477.7 1324,476.3 1324.6,474.9 1325.2,473.5 1325.7,472.1 1326.3,470.7 1326.8,469.3 1327.3,467.9 1327.9,466.5 1328.4,465.1 1329,463.7 1329.5,462.3 1330,460.9 1330.5,459.5 1331.1,458.1 1331.6,456.6 1332.1,455.2 1332.6,453.8 1333.1,452.4 1333.6,451 1334.2,449.6 1334.7,448.1 1335.2,446.7 1335.7,445.3 1336.2,443.9 1336.7,442.5 1337.2,441.1 1337.7,439.6 1338.2,438.2 1338.7,436.8 1339.2,435.4 1339.7,434 1340.2,432.6 1340.7,431.1 1341.2,429.7 1341.7,428.3 1342.2,426.9 1342.7,425.5 1343.2,424.1 1343.7,422.6 1344.2,421.2 1344.7,419.8 1345.2,418.4 1345.7,417 1346.2,415.5 1346.7,414.1 1347.2,412.7 1347.7,411.3 1348.2,409.9 1348.6,408.4 1349.1,407 1349.6,405.6 1350.1,404.2 1350.6,402.8 1351.1,401.3 1351.6,399.9 1352,398.5 1352.5,397.1 1353,395.7 1353.5,394.2 1354,392.8 1354.4,391.4 1354.9,390 1355.4,388.5 1355.9,387.1 1356.3,385.7 1356.8,384.3 1357.3,382.8 1357.8,381.4 1358.2,380 1358.7,378.6 1359.2,377.1 1359.6,375.7 1360.1,374.3 1360.6,372.9 1361,371.4 1361.5,370 1362,368.6 1362.4,367.1 1362.9,365.7 1363.4,364.3 1363.8,362.8 1364.3,361.4 1364.7,360 1365.2,358.6 1365.7,357.1 1366.1,355.7 1366.6,354.3 1367,352.8 1367.5,351.4 1367.9,350 1368.4,348.5 1368.8,347.1 1369.3,345.6 1369.7,344.2 1370.2,342.8 1370.6,341.3 1371.1,339.9 1371.5,338.5 1372,337 1372.4,335.6 1372.9,334.1 1373.3,332.7 1373.7,331.3 1374.2,329.8 1374.6,328.4 1375.1,326.9 1375.5,325.5 1375.9,324 1376.4,322.6 1376.8,321.2 1377.3,319.7 1377.7,318.3 1378.2,316.8 1378.6,315.4 1379.1,314 1379.5,312.5 1380,311.1 1380.4,309.6 1380.9,308.2 1381.3,306.8 1381.8,305.3 1382.3,303.9 1382.7,302.5 1383.2,301 1383.7,299.6 1384.2,298.2 1384.7,296.8 1385.2,295.4 1385.7,293.9 1386.2,292.5 1386.7,291.1 1387.2,289.7 1387.7,288.3 1388.3,286.9 1388.8,285.5 1389.3,284.1 1389.9,282.7 1390.5,281.3 1391,279.9 1391.6,278.5 1392.2,277.1 1392.8,275.7 1393.4,274.4 1394,273 1394.6,271.6 1395.2,270.3 1395.8,268.9 1396.5,267.5 1397.1,266.2 1397.8,264.8 1398.5,263.5 1399.2,262.2 1399.9,260.8 1400.6,259.5 1401.3,258.2 1402,256.9 1402.8,255.5 1403.5,254.2 1404.3,252.9 1405.1,251.6 1405.9,250.3 1406.7,249.1 1407.5,247.8 1408.3,246.5 1409.2,245.2 1410,244 1410.9,242.7 1411.8,241.5 1412.7,240.2 1413.6,239 1414.5,237.8 1415.5,236.6 1416.5,235.4 1417.4,234.2 1418.5,233.1 1419.5,232 1420.5,231 1421.6,229.9 1422.7,228.9 1423.8,228 1425,227.1 1426.2,226.3 1427.4,225.5 1428.6,224.8 1429.9,224.1 1431.2,223.5 1432.5,223 1433.9,222.6 1435.2,222.2 1436.7,221.9 1438.1,221.7 1439.6,221.6 1441.1,221.5 1442.6,221.6 1444.1,221.6 1445.7,221.8 1447.2,222 1448.7,222.3 1450.2,222.7 1451.7,223.1 1453.2,223.6 1454.6,224.2 1456,224.8 1457.4,225.5 1458.7,226.2 1460,227 1461.2,227.8 1462.4,228.7 1463.5,229.7 1464.6,230.6 1465.6,231.7 1466.6,232.7 1467.6,233.8 1468.5,235 1469.3,236.2 1470.1,237.4 1470.9,238.6 1471.7,239.9 1472.4,241.2 1473.1,242.6 1473.7,243.9 1474.4,245.3 1475,246.7 1475.6,248.1 1476.1,249.5 1476.7,251 1477.2,252.4 1477.7,253.9 1478.2,255.4 1478.7,256.8 1479.1,258.3 1479.6,259.8 1480,261.3 1480.5,262.7 1480.9,264.2 1481.3,265.7 1481.8,267.2 1482.2,268.6 1482.6,270.1 1483,271.6 1483.4,273.1 1483.7,274.5 1484.1,276 1484.5,277.5 1484.8,279 1485.2,280.4 1485.6,281.9 1485.9,283.4 1486.2,284.9 1486.6,286.4 1486.9,287.8 1487.2,289.3 1487.5,290.8 1487.9,292.3 1488.2,293.7 1488.5,295.2 1488.8,296.7 1489.1,298.2 1489.4,299.6 1489.7,301.1 1490,302.6 1490.3,304.1 1490.6,305.5 1490.8,307 1491.1,308.5 1491.4,310 1491.7,311.4 1492,312.9 1492.2,314.4 1492.5,315.9 1492.8,317.3 1493.1,318.8 1493.3,320.3 1493.6,321.7 1493.9,323.2 1494.1,324.7 1494.4,326.2 1494.7,327.6 1494.9,329.1 1495.2,330.6 1495.5,332 1495.7,333.5 1496,335 1496.2,336.5 1496.5,337.9 1496.7,339.4 1497,340.9 1497.3,342.3 1497.5,343.8 1497.8,345.3 1498,346.7 1498.3,348.2 1498.5,349.7 1498.7,351.2 1499,352.6 1499.2,354.1 1499.5,355.6 1499.7,357 1500,358.5 1500.2,360 1500.4,361.4 1500.7,362.9 1500.9,364.4 1501.2,365.9 1501.4,367.3 1501.6,368.8 1501.9,370.3 1502.1,371.7 1502.3,373.2 1502.6,374.7 1502.8,376.2 1503,377.6 1503.3,379.1 1503.5,380.6 1503.7,382.1 1504,383.5 1504.2,385 1504.4,386.5 1504.6,388 1504.9,389.4 1505.1,390.9 1505.3,392.4 1505.6,393.9 1505.8,395.4 1506,396.8 1506.2,398.3 1506.5,399.8 1506.7,401.3 1506.9,402.8 1507.1,404.2 1507.4,405.7 1507.6,407.2 1507.8,408.7 1508,410.2 1508.3,411.6 1508.5,413.1 1508.7,414.6 1508.9,416.1 1509.2,417.6 1509.4,419.1 1509.6,420.6 1509.8,422.1 1510.1,423.6 1510.3,425 1510.5,426.5 1510.7,428 1511,429.5 1511.2,431 1511.4,432.5 1511.6,434 1511.9,435.5 1512.1,437 1512.3,438.5 1512.6,440 1512.8,441.5 1513,443 1513.2,444.5 1513.5,446 1513.7,447.5 1513.9,449 1514.2,450.5 1514.4,452 1514.6,453.6 1514.9,455.1 1515.1,456.6 1515.3,458.1 1515.6,459.6 1515.8,461.1 1516,462.6 1516.3,464.1 1516.5,465.7 1516.8,467.2 1517,468.7 1517.2,470.2 1517.5,471.7 1517.7,473.3 1518,474.8 1518.2,476.3 1518.5,477.8 1518.7,479.4 1519,480.9 1519.2,482.4 1519.5,483.9 1519.8,485.4 1520.1,487 1520.3,488.5 1520.6,490 1520.9,491.5 1521.2,493 1521.5,494.5 1521.9,496 1522.2,497.5 1522.5,499 1522.9,500.4 1523.2,501.9 1523.6,503.4 1523.9,504.9 1524.3,506.3 1524.7,507.8 1525.1,509.2 1525.5,510.7 1525.9,512.1 1526.4,513.5 1526.8,515 1527.3,516.4 1527.8,517.8 1528.3,519.2 1528.8,520.6 1529.3,522 1529.8,523.3 1530.3,524.7 1530.9,526.1 1531.5,527.4 1532.1,528.7 1532.7,530.1 1533.3,531.4 1534,532.7 1534.6,534 1535.3,535.3 1536,536.5 1536.7,537.8 1537.4,539 1538.2,540.3 1539,541.5 1539.8,542.7 1540.6,543.9 1541.4,545.1 1542.3,546.2 1543.2,547.4 1544.1,548.5 1545,549.6 1545.9,550.7 1546.9,551.8 1547.9,552.9 1548.9,554 1550,555 1551,556 1552.1,557.1 1553.2,558.1 1554.4,559 1555.5,560 1556.7,560.9 1558,561.9 1559.2,562.8 1560.5,563.7 1561.8,564.5 1563.1,565.4 1564.5,566.2" stroke="#555" stroke-width="2.2" fill="none" stroke-linejoin="round" stroke-dasharray="2.2 2.66"/>
<path d="M1249.68,695.1 v-5 M1249.68,212 v5 M1270.26,695.1 v-5 M1270.26,212 v5 M1284.86,695.1 v-5 M1284.86,212 v5 M1296.19,695.1 v-5 M1296.19,212 v5 M1305.44,695.1 v-5 M1305.44,212 v5 M1313.26,695.1 v-5 M1313.26,212 v5 M1320.04,695.1 v-5 M1320.04,212 v5 M1326.02,695.1 v-5 M1326.02,212 v5 M1331.37,695.1 v-10 M1331.37,212 v10 M1366.55,695.1 v-5 M1366.55,212 v5 M1387.13,695.1 v-5 M1387.13,212 v5 M1401.73,695.1 v-5 M1401.73,212 v5 M1413.05,695.1 v-5 M1413.05,212 v5 M1422.31,695.1 v-5 M1422.31,212 v5 M1430.13,695.1 v-5 M1430.13,212 v5 M1436.91,695.1 v-5 M1436.91,212 v5 M1442.89,695.1 v-5 M1442.89,212 v5 M1448.23,695.1 v-10 M1448.23,212 v10 M1483.41,695.1 v-5 M1483.41,212 v5 M1503.99,695.1 v-5 M1503.99,212 v5 M1518.59,695.1 v-5 M1518.59,212 v5 M1529.92,695.1 v-5 M1529.92,212 v5 M1539.17,695.1 v-5 M1539.17,212 v5 M1547,695.1 v-5 M1547,212 v5 M1553.77,695.1 v-5 M1553.77,212 v5 M1559.75,695.1 v-5 M1559.75,212 v5 M1214.5,646.79 h5.5 M1565.1,646.79 h-5.5 M1214.5,598.48 h10.5 M1565.1,598.48 h-10.5 M1214.5,550.17 h5.5 M1565.1,550.17 h-5.5 M1214.5,501.86 h10.5 M1565.1,501.86 h-10.5 M1214.5,453.55 h5.5 M1565.1,453.55 h-5.5 M1214.5,405.24 h10.5 M1565.1,405.24 h-10.5 M1214.5,356.93 h5.5 M1565.1,356.93 h-5.5 M1214.5,308.62 h10.5 M1565.1,308.62 h-10.5 M1214.5,260.31 h5.5 M1565.1,260.31 h-5.5" stroke="#000" stroke-width="2" fill="none"/>
<rect x="1214.5" y="212" width="350.6" height="483.1" fill="none" stroke="#000" stroke-width="2"/>
<text x="1203.9" y="701.5" class="tl" text-anchor="end">0.0</text>
<text x="1203.9" y="604.88" class="tl" text-anchor="end">0.2</text>
<text x="1203.9" y="508.26" class="tl" text-anchor="end">0.4</text>
<text x="1203.9" y="411.64" class="tl" text-anchor="end">0.6</text>
<text x="1203.9" y="315.02" class="tl" text-anchor="end">0.8</text>
<text x="1203.9" y="218.4" class="tl" text-anchor="end">1.0</text>
<text x="1216.5" y="725.2" class="tl" text-anchor="middle">10</text>
<text x="1327.5" y="725.2" class="tl" text-anchor="middle">100</text>
<text x="1449.5" y="725.2" class="tl" text-anchor="middle">1000</text>
<text x="1560.8" y="725.2" class="tl" text-anchor="middle">10000</text>
<text x="1396" y="765" class="at" text-anchor="middle">Time (ns)</text>
<text transform="translate(1143,570) rotate(-90)" class="at">Transient absorptance</text>
<text x="1121.6" y="31.5" class="pl">(c)</text>
<rect x="1200.3" y="64.8" width="128.4" height="128" fill="#3ea94b" stroke="#000" stroke-width="2.6"/><path d="M1202.2,127.2 H1211.3 M1211.3,96.4 V153 M1317.1,97.3 V153 M1317.1,126.2 H1327.5 M1211.3,96.4 H1221.8 M1221.8,80.8 V112.4 M1254.5,80.8 V112.4 M1221.8,80.8 H1226.1 M1226.1,80.8 L1228.83,87.4 L1232.24,74.6 L1235.65,87.4 L1239.05,74.6 L1242.46,87.4 L1245.87,74.6 L1248.6,80.8 M1248.6,80.8 H1254.5 M1221.8,112.4 H1233.5 M1243.2,112.4 H1254.5 M1233.5,104.2 V121.1 M1243.2,104.2 V121.1 M1254.5,97.6 H1263 M1263,97.6 C1263,77.33 1270.4,77.33 1270.4,97.6 C1270.4,77.33 1277.8,77.33 1277.8,97.6 C1277.8,77.33 1285.2,77.33 1285.2,97.6 M1285.2,97.6 H1288.7 M1288.7,97.4 L1291.62,104.5 L1295.27,91.3 L1298.92,104.5 L1302.58,91.3 L1306.23,104.5 L1309.88,91.3 L1312.8,97.4 M1312.8,97.3 H1317.1 M1211.3,153 H1240.4 M1240.4,135.9 V171.4 M1287.6,135.9 V171.4 M1240.4,135.9 H1247.7 M1247.7,135.9 L1251.59,146.1 L1256.45,127.1 L1261.32,146.1 L1266.18,127.1 L1271.05,146.1 L1275.91,127.1 L1279.8,135.9 M1279.8,135.9 H1287.6 M1240.4,171.4 H1258.2 M1271.8,171.4 H1287.6 M1258.2,159.8 V184.1 M1271.8,159.8 V184.1 M1287.6,153 H1317.1" fill="none" stroke="#fff" stroke-width="2.5" stroke-linejoin="round" stroke-linecap="square"/>
<rect x="1345.6" y="56.6" width="221" height="131.1" fill="#fff" stroke="#444" stroke-width="1.2"/>
<path d="M1375.4,77.8 H1434.4" stroke="#000" stroke-width="2.6"/>
<text x="1441.6" y="86.3" class="lg">10 pF</text>
<path d="M1375.4,109.4 H1434.4" stroke="#dc0f0f" stroke-width="2.6"/>
<text x="1441.6" y="117.9" class="lg">100 pF</text>
<path d="M1375.4,141 H1434.4" stroke="#1fdf1f" stroke-width="2.6"/>
<text x="1441.6" y="149.5" class="lg">1000 pF</text>
<path d="M1375.4,172.6 H1430.4" stroke="#555" stroke-width="2.2" stroke-dasharray="2.2 2.66"/>
<text x="1441.6" y="181.1" class="lg">W/O</text>
<path d="M1838.83,212 V695 M1955.67,212 V695 M1722,598.4 H2072.5 M1722,501.8 H2072.5 M1722,405.2 H2072.5 M1722,308.6 H2072.5" stroke="#cbcbcb" stroke-width="1.1" fill="none"/>
<path d="M1721.7,473.2L1722.1,471.8 1722.6,470.3 1723,468.9 1723.5,467.5 1723.9,466 1724.4,464.6 1724.8,463.2 1725.3,461.7 1725.7,460.3 1726.2,458.8 1726.6,457.4 1727.1,456 1727.5,454.5 1728,453.1 1728.4,451.7 1728.9,450.2 1729.4,448.8 1729.8,447.4 1730.3,445.9 1730.7,444.5 1731.2,443.1 1731.6,441.6 1732.1,440.2 1732.5,438.8 1733,437.3 1733.4,435.9 1733.9,434.5 1734.4,433 1734.8,431.6 1735.3,430.2 1735.7,428.7 1736.2,427.3 1736.6,425.9 1737.1,424.4 1737.6,423 1738,421.6 1738.5,420.1 1738.9,418.7 1739.4,417.3 1739.8,415.8 1740.3,414.4 1740.8,413 1741.2,411.5 1741.7,410.1 1742.1,408.7 1742.6,407.2 1743.1,405.8 1743.5,404.4 1744,402.9 1744.4,401.5 1744.9,400.1 1745.4,398.6 1745.8,397.2 1746.3,395.8 1746.7,394.3 1747.2,392.9 1747.7,391.5 1748.1,390 1748.6,388.6 1749,387.2 1749.5,385.7 1750,384.3 1750.4,382.9 1750.9,381.4 1751.3,380 1751.8,378.6 1752.3,377.1 1752.7,375.7 1753.2,374.3 1753.6,372.8 1754.1,371.4 1754.6,370 1755,368.6 1755.5,367.1 1755.9,365.7 1756.4,364.3 1756.9,362.8 1757.3,361.4 1757.8,360 1758.2,358.5 1758.7,357.1 1759.1,355.7 1759.6,354.2 1760.1,352.8 1760.5,351.4 1761,349.9 1761.4,348.5 1761.9,347.1 1762.3,345.6 1762.8,344.2 1763.2,342.8 1763.7,341.3 1764.2,339.9 1764.6,338.5 1765.1,337 1765.5,335.6 1766,334.1 1766.4,332.7 1766.9,331.3 1767.3,329.8 1767.8,328.4 1768.2,327 1768.7,325.5 1769.1,324.1 1769.6,322.7 1770,321.2 1770.5,319.8 1770.9,318.4 1771.4,316.9 1771.8,315.5 1772.3,314.1 1772.7,312.6 1773.2,311.2 1773.6,309.8 1774.1,308.3 1774.5,306.9 1775,305.5 1775.4,304 1775.9,302.6 1776.3,301.1 1776.8,299.7 1777.2,298.3 1777.7,296.9 1778.1,295.4 1778.6,294 1779,292.6 1779.5,291.1 1780,289.7 1780.5,288.3 1780.9,286.9 1781.4,285.4 1781.9,284 1782.4,282.6 1782.9,281.2 1783.4,279.8 1783.9,278.4 1784.5,277 1785,275.6 1785.5,274.2 1786.1,272.8 1786.7,271.4 1787.2,270 1787.8,268.6 1788.4,267.3 1789,265.9 1789.6,264.5 1790.2,263.1 1790.9,261.8 1791.5,260.4 1792.2,259.1 1792.8,257.7 1793.5,256.4 1794.2,255.1 1794.9,253.7 1795.7,252.4 1796.4,251.1 1797.1,249.8 1797.9,248.5 1798.7,247.2 1799.5,245.9 1800.3,244.6 1801.2,243.3 1802,242 1802.9,240.8 1803.8,239.5 1804.7,238.2 1805.6,237 1806.6,235.8 1807.5,234.5 1808.5,233.3 1809.5,232.2 1810.5,231 1811.6,229.9 1812.7,228.8 1813.8,227.8 1814.9,226.8 1816,225.8 1817.2,225 1818.4,224.1 1819.6,223.3 1820.8,222.6 1822.1,222 1823.4,221.4 1824.7,220.9 1826,220.5 1827.4,220.1 1828.8,219.9 1830.2,219.7 1831.6,219.6 1833.1,219.6 1834.6,219.7 1836.1,219.9 1837.6,220.1 1839,220.5 1840.5,220.8 1842,221.3 1843.5,221.8 1845,222.4 1846.4,223 1847.8,223.7 1849.2,224.4 1850.6,225.2 1851.9,226 1853.2,226.9 1854.4,227.8 1855.6,228.7 1856.7,229.7 1857.8,230.7 1858.9,231.7 1859.9,232.8 1860.9,233.9 1861.8,235 1862.7,236.2 1863.6,237.4 1864.4,238.6 1865.2,239.8 1866,241.1 1866.7,242.4 1867.4,243.7 1868,245 1868.7,246.3 1869.3,247.7 1869.9,249.1 1870.4,250.4 1871,251.9 1871.5,253.3 1872,254.7 1872.5,256.2 1873,257.6 1873.4,259.1 1873.8,260.6 1874.3,262 1874.7,263.5 1875.1,265 1875.4,266.5 1875.8,268 1876.2,269.5 1876.6,271 1876.9,272.5 1877.3,274 1877.7,275.5 1878,277 1878.4,278.5 1878.7,280 1879.1,281.5 1879.4,283 1879.8,284.5 1880.2,286 1880.5,287.5 1880.9,288.9 1881.2,290.4 1881.6,291.9 1881.9,293.4 1882.3,294.8 1882.6,296.3 1883,297.8 1883.3,299.2 1883.7,300.7 1884,302.1 1884.4,303.6 1884.7,305.1 1885.1,306.5 1885.4,308 1885.7,309.4 1886.1,310.9 1886.4,312.3 1886.8,313.8 1887.1,315.2 1887.4,316.7 1887.8,318.1 1888.1,319.6 1888.4,321 1888.7,322.5 1889.1,323.9 1889.4,325.4 1889.7,326.8 1890,328.3 1890.3,329.7 1890.6,331.2 1891,332.6 1891.3,334.1 1891.6,335.5 1891.9,337 1892.2,338.4 1892.5,339.9 1892.8,341.4 1893.1,342.8 1893.4,344.3 1893.6,345.7 1893.9,347.2 1894.2,348.7 1894.5,350.1 1894.8,351.6 1895.1,353 1895.4,354.5 1895.7,356 1895.9,357.4 1896.2,358.9 1896.5,360.4 1896.8,361.8 1897.1,363.3 1897.3,364.8 1897.6,366.3 1897.9,367.7 1898.2,369.2 1898.5,370.7 1898.8,372.2 1899,373.7 1899.3,375.1 1899.6,376.6 1899.9,378.1 1900.2,379.6 1900.5,381.1 1900.8,382.6 1901.1,384 1901.4,385.5 1901.6,387 1901.9,388.5 1902.2,390 1902.5,391.5 1902.8,393 1903.2,394.5 1903.5,396 1903.8,397.5 1904.1,399 1904.4,400.5 1904.7,402 1905,403.5 1905.4,405 1905.7,406.5 1906,408 1906.4,409.5 1906.7,411 1907,412.6 1907.4,414.1 1907.7,415.6 1908.1,417.1 1908.5,418.6 1908.9,420.1 1909.3,421.6 1909.7,423 1910.2,424.5 1910.7,425.9 1911.2,427.3 1911.7,428.7 1912.3,430.1 1912.9,431.5 1913.5,432.8 1914.2,434.1 1914.9,435.4 1915.7,436.6 1916.5,437.8 1917.3,438.9 1918.3,440.1 1919.2,441.1 1920.2,442 1921.3,442.6 1922.4,443 1923.6,443 1924.8,442.8 1926,442.2 1927.1,441.5 1928.2,440.6 1929.1,439.5 1929.9,438.4 1930.6,437.1 1931.3,435.8 1931.8,434.4 1932.4,432.9 1932.9,431.4 1933.3,429.9 1933.8,428.3 1934.2,426.8 1934.6,425.2 1935.1,423.7 1935.5,422.2 1935.9,420.7 1936.4,419.1 1936.8,417.6 1937.2,416.1 1937.6,414.6 1938,413.1 1938.4,411.6 1938.8,410.1 1939.2,408.6 1939.6,407.1 1940,405.6 1940.4,404.1 1940.8,402.6 1941.1,401.2 1941.5,399.7 1941.9,398.2 1942.3,396.7 1942.6,395.3 1943,393.8 1943.4,392.3 1943.7,390.8 1944.1,389.4 1944.4,387.9 1944.8,386.5 1945.1,385 1945.5,383.5 1945.8,382.1 1946.2,380.6 1946.5,379.2 1946.9,377.7 1947.2,376.3 1947.6,374.8 1947.9,373.4 1948.2,371.9 1948.6,370.5 1948.9,369 1949.2,367.6 1949.6,366.1 1949.9,364.7 1950.2,363.2 1950.5,361.8 1950.9,360.3 1951.2,358.9 1951.5,357.4 1951.8,356 1952.1,354.5 1952.5,353.1 1952.8,351.6 1953.1,350.2 1953.4,348.7 1953.7,347.3 1954,345.8 1954.4,344.4 1954.7,342.9 1955,341.5 1955.3,340 1955.6,338.5 1955.9,337.1 1956.3,335.6 1956.6,334.2 1956.9,332.7 1957.2,331.2 1957.5,329.8 1957.8,328.3 1958.2,326.8 1958.5,325.4 1958.8,323.9 1959.1,322.4 1959.5,321 1959.8,319.5 1960.1,318 1960.4,316.6 1960.8,315.1 1961.1,313.6 1961.4,312.2 1961.8,310.7 1962.1,309.2 1962.5,307.8 1962.8,306.3 1963.2,304.8 1963.5,303.4 1963.9,301.9 1964.2,300.4 1964.6,299 1964.9,297.5 1965.3,296.1 1965.7,294.6 1966.1,293.1 1966.4,291.7 1966.8,290.2 1967.2,288.7 1967.6,287.3 1968,285.8 1968.4,284.4 1968.8,282.9 1969.2,281.5 1969.6,280 1970,278.6 1970.4,277.1 1970.9,275.7 1971.3,274.2 1971.7,272.8 1972.2,271.3 1972.6,269.9 1973.1,268.4 1973.5,267 1974,265.5 1974.5,264.1 1974.9,262.7 1975.4,261.2 1975.9,259.8 1976.4,258.4 1976.9,256.9 1977.4,255.5 1977.9,254.1 1978.4,252.7 1979,251.3 1979.5,249.8 1980,248.4 1980.6,247 1981.2,245.6 1981.7,244.2 1982.3,242.8 1982.9,241.4 1983.5,240 1984.1,238.6 1984.7,237.2 1985.4,235.9 1986.1,234.6 1986.8,233.3 1987.6,232 1988.4,230.8 1989.3,229.6 1990.2,228.4 1991.1,227.3 1992.2,226.3 1993.3,225.3 1994.4,224.3 1995.7,223.4 1997,222.6 1998.3,221.8 1999.8,221.2 2001.2,220.6 2002.7,220.1 2004.2,219.8 2005.6,219.7 2007,219.7 2008.4,219.8 2009.8,220 2011.2,220.4 2012.5,220.8 2013.9,221.3 2015.2,222 2016.5,222.7 2017.8,223.4 2019.1,224.2 2020.4,225.1 2021.7,226 2023,226.9 2024.3,227.8 2025.6,228.7 2026.9,229.6 2028.2,230.5 2029.5,231.4 2030.8,232.3 2032.1,233.1 2033.4,233.8 2034.7,234.6 2036.1,235.3 2037.4,235.9 2038.8,236.5 2040.1,237.1 2041.5,237.7 2042.9,238.2 2044.2,238.7 2045.6,239.2 2047,239.6 2048.4,240 2049.9,240.4 2051.3,240.7 2052.7,241 2054.2,241.3 2055.6,241.5 2057.1,241.7 2058.6,241.9 2060.1,242 2061.6,242.1 2063.1,242.2 2064.6,242.3 2066.1,242.3 2067.6,242.3 2069.2,242.3 2070.7,242.2 2072.3,242.1" stroke="#000" stroke-width="2.7" fill="none" stroke-linejoin="round"/>
<path d="M1721.7,479.4L1722.2,478 1722.7,476.6 1723.2,475.1 1723.8,473.7 1724.3,472.3 1724.8,470.9 1725.3,469.4 1725.8,468 1726.2,466.6 1726.7,465.1 1727.2,463.7 1727.7,462.3 1728.2,460.9 1728.7,459.4 1729.2,458 1729.6,456.6 1730.1,455.1 1730.6,453.7 1731,452.3 1731.5,450.8 1732,449.4 1732.4,448 1732.9,446.5 1733.3,445.1 1733.8,443.7 1734.2,442.2 1734.7,440.8 1735.1,439.4 1735.6,437.9 1736,436.5 1736.5,435.1 1736.9,433.6 1737.4,432.2 1737.8,430.7 1738.2,429.3 1738.7,427.9 1739.1,426.4 1739.5,425 1740,423.6 1740.4,422.1 1740.8,420.7 1741.3,419.2 1741.7,417.8 1742.1,416.4 1742.5,414.9 1743,413.5 1743.4,412 1743.8,410.6 1744.2,409.2 1744.7,407.7 1745.1,406.3 1745.5,404.9 1745.9,403.4 1746.3,402 1746.7,400.5 1747.2,399.1 1747.6,397.7 1748,396.2 1748.4,394.8 1748.8,393.3 1749.2,391.9 1749.7,390.5 1750.1,389 1750.5,387.6 1750.9,386.1 1751.3,384.7 1751.7,383.3 1752.2,381.8 1752.6,380.4 1753,378.9 1753.4,377.5 1753.8,376.1 1754.2,374.6 1754.7,373.2 1755.1,371.7 1755.5,370.3 1755.9,368.9 1756.3,367.4 1756.8,366 1757.2,364.6 1757.6,363.1 1758,361.7 1758.5,360.3 1758.9,358.8 1759.3,357.4 1759.7,355.9 1760.2,354.5 1760.6,353.1 1761,351.6 1761.5,350.2 1761.9,348.8 1762.3,347.3 1762.8,345.9 1763.2,344.5 1763.6,343 1764.1,341.6 1764.5,340.2 1765,338.8 1765.4,337.3 1765.9,335.9 1766.3,334.5 1766.8,333 1767.2,331.6 1767.7,330.2 1768.1,328.8 1768.6,327.3 1769.1,325.9 1769.5,324.5 1770,323 1770.5,321.6 1770.9,320.2 1771.4,318.8 1771.9,317.4 1772.4,315.9 1772.9,314.5 1773.3,313.1 1773.8,311.7 1774.3,310.3 1774.8,308.8 1775.3,307.4 1775.8,306 1776.3,304.6 1776.8,303.2 1777.3,301.8 1777.8,300.3 1778.3,298.9 1778.9,297.5 1779.4,296.1 1779.9,294.7 1780.4,293.3 1781,291.9 1781.5,290.5 1782,289.1 1782.6,287.6 1783.1,286.2 1783.7,284.8 1784.2,283.4 1784.8,282 1785.3,280.6 1785.9,279.2 1786.5,277.8 1787,276.4 1787.6,275 1788.2,273.6 1788.8,272.2 1789.4,270.8 1790,269.4 1790.5,268 1791.1,266.7 1791.8,265.3 1792.4,263.9 1793,262.5 1793.6,261.1 1794.2,259.7 1794.8,258.3 1795.5,256.9 1796.1,255.5 1796.8,254.2 1797.4,252.8 1798.1,251.4 1798.7,250 1799.4,248.7 1800.1,247.3 1800.7,245.9 1801.4,244.6 1802.2,243.3 1802.9,241.9 1803.6,240.6 1804.4,239.4 1805.2,238.1 1806,236.9 1806.9,235.7 1807.8,234.5 1808.7,233.4 1809.6,232.3 1810.6,231.2 1811.6,230.1 1812.6,229.2 1813.7,228.2 1814.8,227.3 1816,226.4 1817.2,225.6 1818.4,224.9 1819.7,224.2 1821.1,223.5 1822.4,222.9 1823.9,222.4 1825.4,221.9 1826.9,221.5 1828.4,221.2 1829.9,220.9 1831.5,220.7 1833,220.6 1834.6,220.5 1836.1,220.6 1837.7,220.7 1839.2,220.9 1840.7,221.2 1842.1,221.6 1843.6,222 1845,222.5 1846.3,223.1 1847.7,223.8 1849,224.5 1850.2,225.3 1851.4,226.2 1852.6,227.1 1853.7,228.1 1854.7,229.2 1855.8,230.3 1856.7,231.4 1857.7,232.6 1858.5,233.8 1859.4,235.1 1860.2,236.3 1861,237.6 1861.7,238.9 1862.5,240.2 1863.2,241.6 1863.8,242.9 1864.5,244.3 1865.1,245.6 1865.7,247 1866.2,248.4 1866.8,249.7 1867.3,251.1 1867.8,252.5 1868.3,253.9 1868.8,255.4 1869.2,256.8 1869.6,258.2 1870.1,259.6 1870.5,261.1 1870.9,262.5 1871.3,264 1871.6,265.4 1872,266.9 1872.4,268.3 1872.7,269.8 1873.1,271.3 1873.4,272.7 1873.7,274.2 1874.1,275.7 1874.4,277.1 1874.8,278.6 1875.1,280.1 1875.4,281.5 1875.8,283 1876.1,284.5 1876.4,286 1876.8,287.4 1877.1,288.9 1877.4,290.4 1877.7,291.9 1878.1,293.3 1878.4,294.8 1878.7,296.3 1879,297.8 1879.4,299.3 1879.7,300.7 1880,302.2 1880.3,303.7 1880.6,305.2 1881,306.7 1881.3,308.1 1881.6,309.6 1881.9,311.1 1882.2,312.6 1882.5,314.1 1882.8,315.5 1883.1,317 1883.4,318.5 1883.7,320 1884,321.5 1884.3,323 1884.6,324.4 1884.9,325.9 1885.2,327.4 1885.5,328.9 1885.8,330.4 1886.1,331.9 1886.4,333.4 1886.7,334.8 1887,336.3 1887.3,337.8 1887.5,339.3 1887.8,340.8 1888.1,342.3 1888.4,343.7 1888.7,345.2 1888.9,346.7 1889.2,348.2 1889.5,349.7 1889.8,351.2 1890,352.7 1890.3,354.1 1890.6,355.6 1890.8,357.1 1891.1,358.6 1891.4,360.1 1891.6,361.6 1891.9,363.1 1892.1,364.5 1892.4,366 1892.7,367.5 1892.9,369 1893.2,370.5 1893.4,372 1893.7,373.4 1893.9,374.9 1894.1,376.4 1894.4,377.9 1894.6,379.4 1894.9,380.9 1895.1,382.3 1895.3,383.8 1895.6,385.3 1895.8,386.8 1896,388.3 1896.2,389.7 1896.5,391.2 1896.7,392.7 1896.9,394.2 1897.1,395.6 1897.3,397.1 1897.6,398.6 1897.8,400.1 1898,401.5 1898.2,403 1898.4,404.5 1898.6,406 1898.8,407.4 1899,408.9 1899.2,410.4 1899.4,411.9 1899.6,413.3 1899.8,414.8 1900,416.3 1900.2,417.7 1900.4,419.2 1900.6,420.7 1900.8,422.1 1901,423.6 1901.2,425.1 1901.4,426.5 1901.5,428 1901.7,429.5 1901.9,430.9 1902.1,432.4 1902.3,433.9 1902.6,435.3 1902.8,436.8 1903,438.3 1903.2,439.7 1903.4,441.2 1903.6,442.7 1903.8,444.1 1904.1,445.6 1904.3,447.1 1904.5,448.5 1904.8,450 1905,451.5 1905.2,452.9 1905.5,454.4 1905.7,455.9 1906,457.3 1906.3,458.8 1906.5,460.3 1906.8,461.7 1907.1,463.2 1907.4,464.7 1907.7,466.2 1908,467.6 1908.3,469.1 1908.6,470.6 1908.9,472 1909.2,473.5 1909.6,475 1909.9,476.5 1910.3,477.9 1910.6,479.4 1911,480.9 1911.4,482.4 1911.8,483.8 1912.2,485.3 1912.6,486.8 1913,488.3 1913.4,489.7 1913.8,491.2 1914.3,492.7 1914.7,494.2 1915.2,495.7 1915.7,497.2 1916.2,498.6 1916.7,500.1 1917.2,501.6 1917.7,503.1 1918.2,504.6 1918.8,506.1 1919.3,507.6 1919.9,509.1 1920.5,510.6 1921.1,512.1 1921.7,513.6 1922.3,515.1 1922.9,516.6 1923.6,518 1924.3,519.5 1924.9,521 1925.6,522.4 1926.4,523.8 1927.1,525.2 1927.9,526.5 1928.7,527.8 1929.5,529.1 1930.4,530.3 1931.3,531.4 1932.2,532.5 1933.1,533.5 1934.1,534.5 1935.1,535.4 1936.2,536.2 1937.3,536.9 1938.4,537.6 1939.6,538.2 1940.8,538.6 1942,539 1943.3,539.2 1944.6,539.4 1945.9,539.5 1947.2,539.4 1948.5,539.2 1949.8,538.9 1951.1,538.5 1952.4,538 1953.6,537.4 1954.9,536.8 1956.1,536 1957.4,535.2 1958.6,534.4 1959.8,533.4 1961,532.5 1962.1,531.4 1963.3,530.4 1964.5,529.3 1965.6,528.2 1966.7,527.1 1967.8,526 1968.9,524.9 1970,523.8 1971,522.6 1972.1,521.5 1973.1,520.3 1974.1,519.2 1975.2,518 1976.1,516.8 1977.1,515.7 1978.1,514.5 1979,513.3 1980,512.1 1980.9,510.9 1981.8,509.7 1982.7,508.4 1983.6,507.2 1984.5,506 1985.4,504.8 1986.2,503.5 1987.1,502.3 1987.9,501 1988.7,499.7 1989.5,498.5 1990.3,497.2 1991.1,495.9 1991.9,494.6 1992.7,493.4 1993.4,492.1 1994.2,490.8 1994.9,489.5 1995.6,488.2 1996.4,486.8 1997.1,485.5 1997.8,484.2 1998.5,482.9 1999.2,481.6 1999.8,480.2 2000.5,478.9 2001.2,477.5 2001.8,476.2 2002.5,474.8 2003.1,473.5 2003.8,472.1 2004.4,470.8 2005,469.4 2005.6,468 2006.2,466.7 2006.8,465.3 2007.4,463.9 2008,462.5 2008.6,461.2 2009.2,459.8 2009.7,458.4 2010.3,457 2010.9,455.6 2011.4,454.2 2012,452.8 2012.5,451.4 2013.1,450 2013.6,448.6 2014.1,447.2 2014.7,445.8 2015.2,444.4 2015.7,443 2016.3,441.6 2016.8,440.1 2017.3,438.7 2017.8,437.3 2018.3,435.9 2018.8,434.5 2019.4,433.1 2019.9,431.6 2020.4,430.2 2020.9,428.8 2021.4,427.4 2021.9,426 2022.4,424.5 2022.9,423.1 2023.4,421.7 2023.9,420.3 2024.4,418.8 2024.9,417.4 2025.4,416 2025.9,414.6 2026.4,413.1 2026.9,411.7 2027.4,410.3 2027.9,408.9 2028.4,407.5 2028.9,406 2029.4,404.6 2029.9,403.2 2030.5,401.8 2031,400.4 2031.5,399 2032,397.6 2032.5,396.1 2033,394.7 2033.6,393.3 2034.1,391.9 2034.6,390.5 2035.1,389.1 2035.7,387.7 2036.2,386.3 2036.7,384.9 2037.3,383.5 2037.8,382.1 2038.3,380.7 2038.9,379.3 2039.4,377.9 2039.9,376.5 2040.5,375.1 2041,373.7 2041.5,372.3 2042.1,370.9 2042.6,369.5 2043.2,368.1 2043.7,366.7 2044.2,365.3 2044.8,363.9 2045.3,362.5 2045.9,361.1 2046.4,359.7 2046.9,358.3 2047.5,356.9 2048,355.5 2048.5,354.1 2049.1,352.7 2049.6,351.3 2050.2,349.9 2050.7,348.5 2051.2,347.1 2051.8,345.7 2052.3,344.3 2052.8,342.9 2053.4,341.5 2053.9,340.1 2054.4,338.7 2054.9,337.3 2055.5,335.9 2056,334.5 2056.5,333 2057.1,331.6 2057.6,330.2 2058.1,328.8 2058.6,327.4 2059.1,326 2059.7,324.6 2060.2,323.2 2060.7,321.8 2061.2,320.4 2061.7,319 2062.2,317.6 2062.7,316.1 2063.2,314.7 2063.7,313.3 2064.2,311.9 2064.7,310.5 2065.2,309.1 2065.7,307.6 2066.2,306.2 2066.7,304.8 2067.2,303.4 2067.6,301.9 2068.1,300.5 2068.6,299.1 2069.1,297.7 2069.5,296.2 2070,294.8 2070.5,293.4 2070.9,291.9 2071.4,290.5 2071.8,289 2072.3,287.6" stroke="#dc0f0f" stroke-width="2.7" fill="none" stroke-linejoin="round"/>
<path d="M1721.7,479.4L1722.3,478 1722.8,476.5 1723.4,475.1 1723.9,473.7 1724.5,472.2 1725,470.8 1725.5,469.4 1726.1,467.9 1726.6,466.5 1727.1,465.1 1727.6,463.6 1728.1,462.2 1728.6,460.8 1729.1,459.3 1729.6,457.9 1730.1,456.5 1730.6,455 1731.1,453.6 1731.6,452.2 1732.1,450.7 1732.6,449.3 1733,447.9 1733.5,446.4 1734,445 1734.4,443.5 1734.9,442.1 1735.3,440.7 1735.8,439.2 1736.3,437.8 1736.7,436.4 1737.1,434.9 1737.6,433.5 1738,432 1738.5,430.6 1738.9,429.2 1739.3,427.7 1739.8,426.3 1740.2,424.9 1740.6,423.4 1741,422 1741.5,420.5 1741.9,419.1 1742.3,417.7 1742.7,416.2 1743.1,414.8 1743.6,413.3 1744,411.9 1744.4,410.5 1744.8,409 1745.2,407.6 1745.6,406.2 1746,404.7 1746.4,403.3 1746.8,401.8 1747.2,400.4 1747.6,399 1748,397.5 1748.4,396.1 1748.8,394.6 1749.2,393.2 1749.6,391.8 1750,390.3 1750.4,388.9 1750.8,387.5 1751.2,386 1751.6,384.6 1752,383.1 1752.4,381.7 1752.8,380.3 1753.2,378.8 1753.6,377.4 1754,376 1754.4,374.5 1754.7,373.1 1755.1,371.7 1755.5,370.2 1755.9,368.8 1756.3,367.3 1756.7,365.9 1757.1,364.5 1757.5,363 1757.9,361.6 1758.3,360.2 1758.8,358.7 1759.2,357.3 1759.6,355.9 1760,354.4 1760.4,353 1760.8,351.6 1761.2,350.1 1761.6,348.7 1762,347.3 1762.5,345.9 1762.9,344.4 1763.3,343 1763.7,341.6 1764.2,340.1 1764.6,338.7 1765,337.3 1765.4,335.8 1765.9,334.4 1766.3,333 1766.8,331.6 1767.2,330.1 1767.7,328.7 1768.1,327.3 1768.6,325.9 1769,324.4 1769.5,323 1769.9,321.6 1770.4,320.2 1770.9,318.7 1771.3,317.3 1771.8,315.9 1772.3,314.5 1772.8,313 1773.2,311.6 1773.7,310.2 1774.2,308.8 1774.7,307.4 1775.2,305.9 1775.7,304.5 1776.2,303.1 1776.7,301.7 1777.3,300.3 1777.8,298.9 1778.3,297.4 1778.8,296 1779.4,294.6 1779.9,293.2 1780.5,291.8 1781,290.4 1781.6,289 1782.1,287.6 1782.7,286.1 1783.2,284.7 1783.8,283.3 1784.4,281.9 1785,280.5 1785.6,279.1 1786.1,277.7 1786.7,276.3 1787.4,274.9 1788,273.5 1788.6,272.1 1789.2,270.7 1789.8,269.3 1790.5,267.9 1791.1,266.5 1791.7,265.1 1792.4,263.7 1793.1,262.3 1793.7,260.9 1794.4,259.5 1795.1,258.1 1795.7,256.7 1796.4,255.3 1797.1,253.9 1797.8,252.5 1798.5,251.1 1799.3,249.7 1800,248.3 1800.7,247 1801.5,245.6 1802.2,244.2 1803,242.9 1803.8,241.6 1804.6,240.3 1805.4,239 1806.2,237.7 1807.1,236.5 1808,235.3 1808.8,234.1 1809.8,233 1810.7,231.9 1811.7,230.8 1812.6,229.8 1813.6,228.8 1814.7,227.9 1815.7,227 1816.8,226.2 1817.9,225.4 1819.1,224.7 1820.3,224 1821.5,223.4 1822.7,222.8 1824,222.3 1825.3,221.9 1826.7,221.6 1828.1,221.3 1829.5,221.1 1831,221 1832.5,220.9 1834,220.9 1835.5,221 1837.1,221.2 1838.6,221.4 1840.1,221.7 1841.7,222 1843.2,222.5 1844.7,223 1846.2,223.5 1847.6,224.1 1849,224.8 1850.4,225.5 1851.7,226.3 1852.9,227.2 1854.1,228.1 1855.2,229 1856.3,230.1 1857.3,231.1 1858.2,232.2 1859.1,233.4 1859.9,234.6 1860.7,235.8 1861.5,237.1 1862.2,238.4 1862.8,239.7 1863.5,241.1 1864.1,242.5 1864.6,243.9 1865.2,245.3 1865.7,246.8 1866.2,248.3 1866.6,249.7 1867.1,251.2 1867.5,252.7 1868,254.2 1868.4,255.7 1868.8,257.2 1869.3,258.7 1869.7,260.1 1870.1,261.6 1870.5,263.1 1870.9,264.6 1871.3,266.1 1871.7,267.5 1872.1,269 1872.5,270.5 1872.9,272 1873.3,273.4 1873.7,274.9 1874.1,276.4 1874.5,277.9 1874.8,279.3 1875.2,280.8 1875.6,282.3 1875.9,283.7 1876.3,285.2 1876.7,286.7 1877,288.1 1877.4,289.6 1877.7,291.1 1878.1,292.5 1878.4,294 1878.8,295.4 1879.1,296.9 1879.4,298.4 1879.8,299.8 1880.1,301.3 1880.4,302.7 1880.7,304.2 1881.1,305.7 1881.4,307.1 1881.7,308.6 1882,310 1882.3,311.5 1882.6,313 1882.9,314.4 1883.2,315.9 1883.5,317.3 1883.8,318.8 1884.1,320.3 1884.4,321.7 1884.7,323.2 1885,324.7 1885.2,326.1 1885.5,327.6 1885.8,329 1886.1,330.5 1886.4,332 1886.6,333.5 1886.9,334.9 1887.2,336.4 1887.4,337.9 1887.7,339.3 1888,340.8 1888.2,342.3 1888.5,343.8 1888.7,345.2 1889,346.7 1889.2,348.2 1889.5,349.7 1889.7,351.1 1890,352.6 1890.2,354.1 1890.5,355.6 1890.7,357.1 1891,358.5 1891.2,360 1891.4,361.5 1891.7,363 1891.9,364.5 1892.1,366 1892.4,367.5 1892.6,368.9 1892.8,370.4 1893,371.9 1893.3,373.4 1893.5,374.9 1893.7,376.4 1894,377.9 1894.2,379.4 1894.4,380.8 1894.6,382.3 1894.8,383.8 1895.1,385.3 1895.3,386.8 1895.5,388.3 1895.7,389.8 1895.9,391.3 1896.1,392.8 1896.4,394.3 1896.6,395.7 1896.8,397.2 1897,398.7 1897.2,400.2 1897.4,401.7 1897.6,403.2 1897.9,404.7 1898.1,406.2 1898.3,407.7 1898.5,409.2 1898.7,410.7 1898.9,412.2 1899.1,413.7 1899.3,415.2 1899.5,416.6 1899.8,418.1 1900,419.6 1900.2,421.1 1900.4,422.6 1900.6,424.1 1900.8,425.6 1901,427.1 1901.2,428.6 1901.5,430.1 1901.7,431.6 1901.9,433.1 1902.1,434.6 1902.3,436.1 1902.5,437.5 1902.8,439 1903,440.5 1903.2,442 1903.4,443.5 1903.6,445 1903.9,446.5 1904.1,448 1904.3,449.5 1904.5,450.9 1904.7,452.4 1905,453.9 1905.2,455.4 1905.4,456.9 1905.7,458.4 1905.9,459.9 1906.1,461.4 1906.4,462.8 1906.6,464.3 1906.8,465.8 1907.1,467.3 1907.3,468.8 1907.5,470.3 1907.8,471.7 1908,473.2 1908.3,474.7 1908.5,476.2 1908.8,477.7 1909,479.1 1909.3,480.6 1909.5,482.1 1909.8,483.6 1910.1,485 1910.3,486.5 1910.6,488 1910.9,489.4 1911.2,490.9 1911.5,492.4 1911.8,493.8 1912.1,495.3 1912.4,496.8 1912.7,498.2 1913,499.7 1913.4,501.2 1913.7,502.6 1914.1,504.1 1914.5,505.5 1914.9,507 1915.3,508.4 1915.7,509.9 1916.1,511.3 1916.5,512.7 1917,514.2 1917.4,515.6 1917.9,517 1918.4,518.5 1918.9,519.9 1919.5,521.3 1920,522.7 1920.6,524.2 1921.2,525.6 1921.8,527 1922.4,528.4 1923,529.8 1923.7,531.2 1924.4,532.6 1925.1,533.9 1925.8,535.3 1926.6,536.6 1927.3,537.9 1928.1,539.2 1928.9,540.5 1929.8,541.8 1930.7,543 1931.5,544.2 1932.5,545.4 1933.4,546.5 1934.4,547.7 1935.4,548.7 1936.4,549.8 1937.5,550.8 1938.6,551.8 1939.7,552.7 1940.9,553.6 1942,554.5 1943.3,555.3 1944.5,556.1 1945.7,556.8 1947,557.6 1948.3,558.2 1949.6,558.9 1951,559.5 1952.3,560.1 1953.7,560.6 1955.1,561.1 1956.5,561.6 1958,562 1959.4,562.4 1960.9,562.8 1962.3,563.1 1963.8,563.5 1965.3,563.7 1966.8,564 1968.3,564.2 1969.8,564.4 1971.3,564.6 1972.9,564.7 1974.4,564.8 1975.9,564.9 1977.5,565 1979,565 1980.5,565 1982.1,565 1983.6,564.9 1985.1,564.8 1986.7,564.7 1988.2,564.6 1989.7,564.4 1991.2,564.3 1992.7,564.1 1994.2,563.9 1995.7,563.6 1997.2,563.3 1998.7,563.1 2000.2,562.8 2001.6,562.4 2003.1,562.1 2004.5,561.7 2006,561.3 2007.4,560.9 2008.9,560.5 2010.3,560 2011.7,559.6 2013.1,559.1 2014.5,558.6 2015.9,558.1 2017.3,557.5 2018.7,557 2020.1,556.4 2021.5,555.8 2022.9,555.2 2024.2,554.6 2025.6,554 2026.9,553.4 2028.3,552.7 2029.6,552 2031,551.3 2032.3,550.7 2033.6,549.9 2035,549.2 2036.3,548.5 2037.6,547.8 2038.9,547 2040.2,546.2 2041.5,545.5 2042.8,544.7 2044.1,543.9 2045.3,543.1 2046.6,542.3 2047.9,541.5 2049.1,540.6 2050.4,539.8 2051.7,538.9 2052.9,538.1 2054.2,537.2 2055.4,536.4 2056.6,535.5 2057.9,534.6 2059.1,533.8 2060.3,532.9 2061.5,532 2062.7,531.1 2064,530.2 2065.2,529.3 2066.4,528.4 2067.6,527.5 2068.7,526.6 2069.9,525.7 2071.1,524.8 2072.3,523.9" stroke="#1fdf1f" stroke-width="2.7" fill="none" stroke-linejoin="round"/>
<path d="M1721.7,479.4L1722.2,478 1722.8,476.5 1723.3,475.1 1723.8,473.7 1724.3,472.2 1724.8,470.8 1725.3,469.4 1725.8,468 1726.4,466.5 1726.9,465.1 1727.3,463.7 1727.8,462.2 1728.3,460.8 1728.8,459.4 1729.3,457.9 1729.8,456.5 1730.3,455.1 1730.7,453.6 1731.2,452.2 1731.7,450.7 1732.2,449.3 1732.6,447.9 1733.1,446.4 1733.5,445 1734,443.6 1734.5,442.1 1734.9,440.7 1735.4,439.3 1735.8,437.8 1736.3,436.4 1736.7,434.9 1737.1,433.5 1737.6,432.1 1738,430.6 1738.5,429.2 1738.9,427.8 1739.3,426.3 1739.8,424.9 1740.2,423.4 1740.6,422 1741,420.6 1741.5,419.1 1741.9,417.7 1742.3,416.2 1742.7,414.8 1743.2,413.4 1743.6,411.9 1744,410.5 1744.4,409 1744.8,407.6 1745.2,406.2 1745.7,404.7 1746.1,403.3 1746.5,401.9 1746.9,400.4 1747.3,399 1747.7,397.5 1748.1,396.1 1748.6,394.7 1749,393.2 1749.4,391.8 1749.8,390.3 1750.2,388.9 1750.6,387.5 1751,386 1751.4,384.6 1751.8,383.2 1752.2,381.7 1752.7,380.3 1753.1,378.8 1753.5,377.4 1753.9,376 1754.3,374.5 1754.7,373.1 1755.1,371.7 1755.5,370.2 1755.9,368.8 1756.4,367.3 1756.8,365.9 1757.2,364.5 1757.6,363 1758,361.6 1758.4,360.2 1758.9,358.7 1759.3,357.3 1759.7,355.9 1760.1,354.4 1760.6,353 1761,351.6 1761.4,350.1 1761.8,348.7 1762.3,347.3 1762.7,345.8 1763.1,344.4 1763.6,343 1764,341.6 1764.4,340.1 1764.9,338.7 1765.3,337.3 1765.8,335.8 1766.2,334.4 1766.7,333 1767.1,331.5 1767.6,330.1 1768,328.7 1768.5,327.3 1768.9,325.8 1769.4,324.4 1769.9,323 1770.3,321.6 1770.8,320.1 1771.3,318.7 1771.8,317.3 1772.2,315.9 1772.7,314.5 1773.2,313 1773.7,311.6 1774.2,310.2 1774.7,308.8 1775.2,307.4 1775.7,305.9 1776.2,304.5 1776.7,303.1 1777.2,301.7 1777.7,300.3 1778.2,298.9 1778.7,297.4 1779.3,296 1779.8,294.6 1780.3,293.2 1780.8,291.8 1781.4,290.4 1781.9,289 1782.5,287.5 1783,286.1 1783.6,284.7 1784.1,283.3 1784.7,281.9 1785.3,280.5 1785.8,279.1 1786.4,277.7 1787,276.3 1787.6,274.9 1788.2,273.5 1788.8,272.1 1789.4,270.7 1790,269.3 1790.6,267.9 1791.2,266.5 1791.8,265.1 1792.4,263.7 1793.1,262.3 1793.7,260.9 1794.3,259.5 1795,258.1 1795.6,256.7 1796.3,255.3 1796.9,253.9 1797.6,252.5 1798.3,251.1 1798.9,249.8 1799.6,248.4 1800.3,247 1801,245.6 1801.7,244.3 1802.5,242.9 1803.2,241.6 1804,240.3 1804.8,239 1805.6,237.8 1806.4,236.6 1807.3,235.4 1808.2,234.2 1809.1,233 1810,231.9 1811,230.9 1812,229.8 1813,228.9 1814.1,227.9 1815.2,227 1816.4,226.2 1817.6,225.4 1818.8,224.7 1820.1,224 1821.4,223.4 1822.7,222.8 1824.1,222.3 1825.6,221.9 1827,221.5 1828.5,221.2 1830,221 1831.5,220.8 1833.1,220.7 1834.6,220.7 1836.1,220.8 1837.6,220.9 1839.1,221.2 1840.6,221.5 1842,221.9 1843.5,222.3 1844.9,222.9 1846.3,223.5 1847.6,224.1 1848.9,224.9 1850.2,225.7 1851.5,226.5 1852.7,227.4 1853.8,228.4 1854.9,229.4 1856,230.5 1857,231.6 1858,232.7 1858.9,233.9 1859.8,235.1 1860.6,236.4 1861.5,237.6 1862.2,238.9 1863,240.2 1863.7,241.5 1864.3,242.8 1865,244.1 1865.6,245.5 1866.2,246.9 1866.7,248.2 1867.2,249.6 1867.7,251 1868.2,252.4 1868.7,253.8 1869.1,255.3 1869.5,256.7 1869.9,258.2 1870.3,259.6 1870.7,261.1 1871,262.5 1871.4,264 1871.7,265.5 1872.1,267 1872.4,268.5 1872.7,269.9 1873,271.4 1873.3,272.9 1873.6,274.4 1874,275.9 1874.3,277.4 1874.6,278.9 1874.9,280.4 1875.2,281.9 1875.6,283.4 1875.9,284.9 1876.2,286.3 1876.5,287.8 1876.9,289.3 1877.2,290.8 1877.5,292.3 1877.9,293.8 1878.2,295.3 1878.5,296.8 1878.9,298.3 1879.2,299.7 1879.5,301.2 1879.9,302.7 1880.2,304.2 1880.5,305.7 1880.9,307.2 1881.2,308.7 1881.5,310.1 1881.9,311.6 1882.2,313.1 1882.5,314.6 1882.9,316.1 1883.2,317.6 1883.5,319.1 1883.9,320.5 1884.2,322 1884.5,323.5 1884.8,325 1885.2,326.5 1885.5,328 1885.8,329.4 1886.1,330.9 1886.5,332.4 1886.8,333.9 1887.1,335.4 1887.4,336.8 1887.7,338.3 1888,339.8 1888.3,341.3 1888.6,342.8 1888.9,344.2 1889.2,345.7 1889.5,347.2 1889.8,348.7 1890.1,350.2 1890.4,351.6 1890.6,353.1 1890.9,354.6 1891.2,356.1 1891.4,357.5 1891.7,359 1892,360.5 1892.2,362 1892.5,363.4 1892.7,364.9 1893,366.4 1893.2,367.9 1893.4,369.3 1893.7,370.8 1893.9,372.3 1894.1,373.8 1894.3,375.2 1894.6,376.7 1894.8,378.2 1895,379.7 1895.2,381.1 1895.4,382.6 1895.6,384.1 1895.8,385.5 1896,387 1896.2,388.5 1896.4,390 1896.6,391.4 1896.8,392.9 1896.9,394.4 1897.1,395.8 1897.3,397.3 1897.5,398.8 1897.7,400.3 1897.8,401.7 1898,403.2 1898.2,404.7 1898.4,406.2 1898.6,407.6 1898.7,409.1 1898.9,410.6 1899.1,412 1899.2,413.5 1899.4,415 1899.6,416.5 1899.8,417.9 1899.9,419.4 1900.1,420.9 1900.3,422.4 1900.5,423.8 1900.6,425.3 1900.8,426.8 1901,428.3 1901.2,429.7 1901.3,431.2 1901.5,432.7 1901.7,434.2 1901.9,435.6 1902.1,437.1 1902.3,438.6 1902.5,440.1 1902.7,441.6 1902.9,443 1903.1,444.5 1903.3,446 1903.5,447.5 1903.7,449 1903.9,450.4 1904.1,451.9 1904.3,453.4 1904.5,454.9 1904.7,456.4 1905,457.9 1905.2,459.3 1905.4,460.8 1905.7,462.3 1905.9,463.8 1906.2,465.3 1906.4,466.8 1906.7,468.3 1906.9,469.8 1907.2,471.3 1907.5,472.7 1907.7,474.2 1908,475.7 1908.3,477.2 1908.6,478.7 1908.9,480.2 1909.2,481.7 1909.5,483.2 1909.8,484.7 1910.1,486.2 1910.4,487.7 1910.8,489.2 1911.1,490.7 1911.5,492.2 1911.8,493.7 1912.2,495.2 1912.5,496.7 1912.9,498.2 1913.3,499.7 1913.7,501.3 1914.1,502.8 1914.5,504.3 1914.9,505.8 1915.3,507.3 1915.7,508.8 1916.2,510.3 1916.6,511.8 1917.1,513.3 1917.5,514.8 1918,516.3 1918.5,517.8 1919,519.2 1919.5,520.7 1920,522.2 1920.6,523.6 1921.1,525.1 1921.7,526.5 1922.3,527.9 1922.9,529.3 1923.5,530.7 1924.1,532.1 1924.8,533.4 1925.4,534.8 1926.1,536.1 1926.8,537.4 1927.5,538.7 1928.3,540 1929,541.3 1929.8,542.5 1930.6,543.7 1931.4,544.9 1932.2,546.1 1933.1,547.3 1933.9,548.4 1934.8,549.5 1935.8,550.6 1936.7,551.6 1937.7,552.7 1938.6,553.7 1939.6,554.6 1940.7,555.6 1941.7,556.5 1942.8,557.4 1943.9,558.2 1945.1,559 1946.2,559.8 1947.4,560.6 1948.6,561.3 1949.8,562 1951.1,562.7 1952.4,563.3 1953.7,563.9 1955,564.5 1956.3,565 1957.7,565.6 1959.1,566.1 1960.5,566.5 1961.9,567 1963.3,567.4 1964.8,567.8 1966.2,568.2 1967.7,568.5 1969.2,568.9 1970.7,569.2 1972.2,569.5 1973.7,569.7 1975.3,570 1976.8,570.2 1978.3,570.4 1979.9,570.6 1981.5,570.8 1983,571 1984.6,571.1 1986.2,571.3 1987.8,571.4 1989.3,571.5 1990.9,571.6 1992.5,571.7 1994.1,571.8 1995.7,571.8 1997.3,571.9 1998.9,571.9 2000.4,571.9 2002,572 2003.6,572 2005.2,572 2006.7,572 2008.3,572 2009.8,572 2011.4,572 2012.9,572 2014.4,572 2016,571.9 2017.5,571.9 2019,571.9 2020.4,571.9 2021.9,571.8 2023.4,571.8 2024.8,571.8 2026.3,571.8 2027.7,571.7 2029.2,571.7 2030.6,571.7 2032,571.6 2033.5,571.6 2034.9,571.6 2036.3,571.6 2037.8,571.5 2039.2,571.5 2040.6,571.5 2042.1,571.5 2043.5,571.5 2044.9,571.4 2046.4,571.4 2047.8,571.4 2049.3,571.4 2050.7,571.4 2052.2,571.4 2053.7,571.4 2055.2,571.4 2056.7,571.4 2058.2,571.4 2059.7,571.4 2061.2,571.4 2062.7,571.4 2064.3,571.4 2065.9,571.5 2067.5,571.5 2069.1,571.5 2070.7,571.6 2072.3,571.6" stroke="#555" stroke-width="2.2" fill="none" stroke-linejoin="round" stroke-dasharray="2.2 2.66"/>
<path d="M1757.17,695 v-5 M1757.17,212 v5 M1777.74,695 v-5 M1777.74,212 v5 M1792.34,695 v-5 M1792.34,212 v5 M1803.66,695 v-5 M1803.66,212 v5 M1812.91,695 v-5 M1812.91,212 v5 M1820.74,695 v-5 M1820.74,212 v5 M1827.51,695 v-5 M1827.51,212 v5 M1833.49,695 v-5 M1833.49,212 v5 M1838.83,695 v-10 M1838.83,212 v10 M1874,695 v-5 M1874,212 v5 M1894.58,695 v-5 M1894.58,212 v5 M1909.17,695 v-5 M1909.17,212 v5 M1920.5,695 v-5 M1920.5,212 v5 M1929.75,695 v-5 M1929.75,212 v5 M1937.57,695 v-5 M1937.57,212 v5 M1944.34,695 v-5 M1944.34,212 v5 M1950.32,695 v-5 M1950.32,212 v5 M1955.67,695 v-10 M1955.67,212 v10 M1990.84,695 v-5 M1990.84,212 v5 M2011.41,695 v-5 M2011.41,212 v5 M2026.01,695 v-5 M2026.01,212 v5 M2037.33,695 v-5 M2037.33,212 v5 M2046.58,695 v-5 M2046.58,212 v5 M2054.4,695 v-5 M2054.4,212 v5 M2061.18,695 v-5 M2061.18,212 v5 M2067.15,695 v-5 M2067.15,212 v5 M1722,646.7 h5.5 M2072.5,646.7 h-5.5 M1722,598.4 h10.5 M2072.5,598.4 h-10.5 M1722,550.1 h5.5 M2072.5,550.1 h-5.5 M1722,501.8 h10.5 M2072.5,501.8 h-10.5 M1722,453.5 h5.5 M2072.5,453.5 h-5.5 M1722,405.2 h10.5 M2072.5,405.2 h-10.5 M1722,356.9 h5.5 M2072.5,356.9 h-5.5 M1722,308.6 h10.5 M2072.5,308.6 h-10.5 M1722,260.3 h5.5 M2072.5,260.3 h-5.5" stroke="#000" stroke-width="2" fill="none"/>
<rect x="1722" y="212" width="350.5" height="483" fill="none" stroke="#000" stroke-width="2"/>
<text x="1711.4" y="701.4" class="tl" text-anchor="end">0.0</text>
<text x="1711.4" y="604.8" class="tl" text-anchor="end">0.2</text>
<text x="1711.4" y="508.2" class="tl" text-anchor="end">0.4</text>
<text x="1711.4" y="411.6" class="tl" text-anchor="end">0.6</text>
<text x="1711.4" y="315" class="tl" text-anchor="end">0.8</text>
<text x="1711.4" y="218.4" class="tl" text-anchor="end">1.0</text>
<text x="1726.5" y="725.2" class="tl" text-anchor="middle">10</text>
<text x="1837.5" y="725.2" class="tl" text-anchor="middle">100</text>
<text x="1959.5" y="725.2" class="tl" text-anchor="middle">1000</text>
<text x="2070" y="725.2" class="tl" text-anchor="middle">10000</text>
<text x="1906" y="765" class="at" text-anchor="middle">Time (ns)</text>
<text transform="translate(1650.7,570) rotate(-90)" class="at">Transient absorptance</text>
<text x="1615.9" y="31.5" class="pl">(d)</text>
<rect x="1713.8" y="61.1" width="128.1" height="127.6" fill="#3ea94b" stroke="#000" stroke-width="2.6"/><path d="M1715.9,127 H1724.6 M1724.6,98 V156.1 M1829.9,98.8 V156.1 M1829.9,126.1 H1840 M1724.6,98 H1735 M1735,82.5 V114 M1767.4,82.5 V114 M1735,82.5 H1739.2 M1739.2,82.5 L1741.99,89.4 L1745.47,76.6 L1748.96,89.4 L1752.44,76.6 L1755.93,89.4 L1759.41,76.6 L1762.2,82.5 M1762.2,82.5 H1767.4 M1735,114 H1747 M1756.4,114 H1767.4 M1747,105.4 V122.9 M1756.4,105.4 V122.9 M1767.4,99.2 H1775.8 M1775.8,99.2 C1775.8,79.47 1783.33,79.47 1783.33,99.2 C1783.33,79.47 1790.87,79.47 1790.87,99.2 C1790.87,79.47 1798.4,79.47 1798.4,99.2 M1798.4,99.2 H1801.5 M1801.5,99.2 L1804.52,106.5 L1808.29,93.3 L1812.06,106.5 L1815.84,93.3 L1819.61,106.5 L1823.38,93.3 L1826.4,99.2 M1826.4,98.8 H1829.9 M1724.6,156.1 H1741.2 M1741.2,156.1 C1741.2,127.57 1751.97,127.57 1751.97,156.1 C1751.97,127.57 1762.73,127.57 1762.73,156.1 C1762.73,127.57 1773.5,127.57 1773.5,156.1 M1773.5,156.1 H1778.9 M1778.9,156.1 L1782.96,167 L1788.04,148 L1793.11,167 L1798.19,148 L1803.26,167 L1808.34,148 L1812.4,156.1 M1812.4,156.1 H1829.9" fill="none" stroke="#fff" stroke-width="2.5" stroke-linejoin="round" stroke-linecap="square"/>
<rect x="1847.9" y="63.5" width="218.7" height="130.7" fill="#fff" stroke="#444" stroke-width="1.2"/>
<path d="M1879.9,84.2 H1939.3" stroke="#000" stroke-width="2.6"/>
<text x="1946.1" y="92.7" class="lg">1 mH</text>
<path d="M1879.9,115.7 H1939.3" stroke="#dc0f0f" stroke-width="2.6"/>
<text x="1946.1" y="124.2" class="lg">10 mH</text>
<path d="M1879.9,147.5 H1939.3" stroke="#1fdf1f" stroke-width="2.6"/>
<text x="1946.1" y="156" class="lg">100 mH</text>
<path d="M1879.9,179.1 H1935.3" stroke="#555" stroke-width="2.2" stroke-dasharray="2.2 2.66"/>
<text x="1946.1" y="187.6" class="lg">W/O</text>
</svg>
</body></html>
